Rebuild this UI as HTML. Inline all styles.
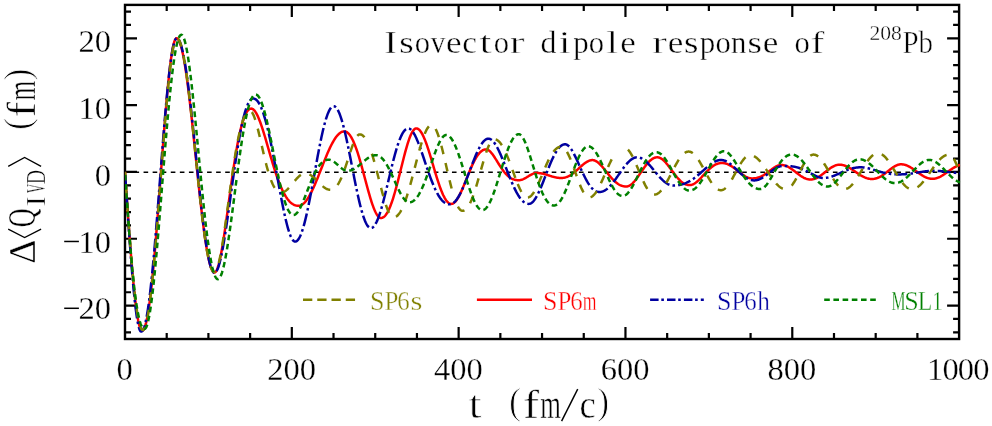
<!DOCTYPE html>
<html><head><meta charset="utf-8"><title>Isovector dipole response of 208Pb</title>
<style>html,body{margin:0;padding:0;background:#fff;}svg{display:block;will-change:transform;}text{font-family:"Liberation Serif",serif;}</style></head><body>
<svg width="992" height="426" viewBox="0 0 992 426">
<rect x="0" y="0" width="992" height="426" fill="#fff"/>
<line x1="125.00" y1="172.30" x2="959.10" y2="172.30" stroke="#000" stroke-width="1.45" stroke-dasharray="4.6 4.47" stroke-dashoffset="-9.50"/>
<g stroke="#000" stroke-width="2.40" fill="none" stroke-linecap="butt">
<rect x="125.00" y="4.90" width="834.10" height="334.10"/>
<path stroke-width="2.2" d="M166.71 339.00v-6.00M166.71 4.90v6.00M208.41 339.00v-6.00M208.41 4.90v6.00M250.12 339.00v-6.00M250.12 4.90v6.00M291.82 339.00v-12.00M291.82 4.90v12.00M333.52 339.00v-6.00M333.52 4.90v6.00M375.23 339.00v-6.00M375.23 4.90v6.00M416.94 339.00v-6.00M416.94 4.90v6.00M458.64 339.00v-12.00M458.64 4.90v12.00M500.35 339.00v-6.00M500.35 4.90v6.00M542.05 339.00v-6.00M542.05 4.90v6.00M583.76 339.00v-6.00M583.76 4.90v6.00M625.46 339.00v-12.00M625.46 4.90v12.00M667.17 339.00v-6.00M667.17 4.90v6.00M708.87 339.00v-6.00M708.87 4.90v6.00M750.58 339.00v-6.00M750.58 4.90v6.00M792.28 339.00v-12.00M792.28 4.90v12.00M833.99 339.00v-6.00M833.99 4.90v6.00M875.69 339.00v-6.00M875.69 4.90v6.00M917.40 339.00v-6.00M917.40 4.90v6.00M125.00 332.32h6.00M959.10 332.32h-6.00M125.00 318.95h6.00M959.10 318.95h-6.00M125.00 305.59h12.00M959.10 305.59h-12.00M125.00 292.23h6.00M959.10 292.23h-6.00M125.00 278.86h6.00M959.10 278.86h-6.00M125.00 265.50h6.00M959.10 265.50h-6.00M125.00 252.13h6.00M959.10 252.13h-6.00M125.00 238.77h12.00M959.10 238.77h-12.00M125.00 225.41h6.00M959.10 225.41h-6.00M125.00 212.04h6.00M959.10 212.04h-6.00M125.00 198.68h6.00M959.10 198.68h-6.00M125.00 185.31h6.00M959.10 185.31h-6.00M125.00 171.95h12.00M959.10 171.95h-12.00M125.00 158.59h6.00M959.10 158.59h-6.00M125.00 145.22h6.00M959.10 145.22h-6.00M125.00 131.86h6.00M959.10 131.86h-6.00M125.00 118.49h6.00M959.10 118.49h-6.00M125.00 105.13h12.00M959.10 105.13h-12.00M125.00 91.77h6.00M959.10 91.77h-6.00M125.00 78.40h6.00M959.10 78.40h-6.00M125.00 65.04h6.00M959.10 65.04h-6.00M125.00 51.67h6.00M959.10 51.67h-6.00M125.00 38.31h12.00M959.10 38.31h-12.00M125.00 24.95h6.00M959.10 24.95h-6.00M125.00 11.58h6.00M959.10 11.58h-6.00"/>
</g>
<clipPath id="cp"><rect x="124.90" y="4.90" width="835.40" height="334.10"/></clipPath>
<g clip-path="url(#cp)" fill="none" stroke-width="2.5" stroke-linejoin="round">
<path d="M125.00 171.95 L125.45 178.63 L125.96 186.08 L126.47 193.49 L126.98 200.84 L127.48 208.12 L127.99 215.32 L128.50 222.42 L129.01 229.40 L129.51 236.24 L130.02 242.94 L130.53 249.48 L131.04 255.85 L131.54 262.02 L132.05 268.00 L132.56 273.77 L133.07 279.31 L133.57 284.61 L134.08 289.67 L134.59 294.47 L135.10 299.00 L135.60 303.26 L136.11 307.24 L136.62 310.92 L137.13 314.31 L137.63 317.39 L138.14 320.16 L138.65 322.62 L139.16 324.75 L139.66 326.57 L140.17 328.05 L140.68 329.21 L141.19 330.04 L141.69 330.53 L142.20 330.70 L142.70 330.57 L143.21 330.17 L143.71 329.51 L144.22 328.59 L144.72 327.39 L145.23 325.93 L145.73 324.21 L146.24 322.22 L146.74 319.97 L147.24 317.45 L147.75 314.68 L148.25 311.65 L148.76 308.38 L149.26 304.85 L149.77 301.09 L150.27 297.08 L150.77 292.85 L151.28 288.40 L151.78 283.72 L152.29 278.84 L152.79 273.76 L153.30 268.49 L153.80 263.04 L154.31 257.41 L154.81 251.62 L155.31 245.68 L155.82 239.60 L156.32 233.39 L156.83 227.06 L157.33 220.62 L157.84 214.10 L158.34 207.50 L158.85 200.83 L159.35 194.11 L159.85 187.36 L160.36 180.58 L160.86 173.79 L161.37 167.01 L161.87 160.25 L162.38 153.53 L162.88 146.86 L163.39 140.26 L163.89 133.73 L164.39 127.31 L164.90 121.00 L165.40 114.82 L165.91 108.78 L166.41 102.90 L166.92 97.19 L167.42 91.67 L167.93 86.35 L168.43 81.24 L168.93 76.36 L169.44 71.73 L169.94 67.35 L170.45 63.23 L170.95 59.40 L171.46 55.85 L171.96 52.60 L172.46 49.67 L172.97 47.05 L173.47 44.76 L173.98 42.81 L174.48 41.20 L174.99 39.94 L175.49 39.03 L176.00 38.48 L176.50 38.30 L177.00 38.40 L177.50 38.69 L178.00 39.18 L178.50 39.87 L179.00 40.75 L179.50 41.82 L180.00 43.09 L180.50 44.54 L181.00 46.19 L181.50 48.01 L182.00 50.02 L182.50 52.20 L183.00 54.57 L183.50 57.10 L184.00 59.79 L184.50 62.65 L185.00 65.67 L185.50 68.84 L186.00 72.16 L186.50 75.62 L187.00 79.21 L187.50 82.94 L188.00 86.79 L188.50 90.75 L189.00 94.83 L189.50 99.01 L190.00 103.29 L190.50 107.66 L191.00 112.11 L191.50 116.63 L192.00 121.22 L192.50 125.87 L193.00 130.57 L193.50 135.32 L194.00 140.10 L194.50 144.91 L195.00 149.73 L195.50 154.57 L196.00 159.41 L196.50 164.25 L197.00 169.07 L197.50 173.87 L198.00 178.63 L198.50 183.36 L199.00 188.05 L199.50 192.67 L200.00 197.24 L200.50 201.73 L201.00 206.15 L201.50 210.48 L202.00 214.71 L202.50 218.85 L203.00 222.87 L203.50 226.79 L204.00 230.58 L204.50 234.24 L205.00 237.76 L205.50 241.15 L206.00 244.38 L206.50 247.47 L207.00 250.40 L207.50 253.16 L208.00 255.75 L208.50 258.18 L209.00 260.42 L209.50 262.48 L210.00 264.36 L210.50 266.05 L211.00 267.55 L211.50 268.86 L212.00 269.97 L212.50 270.88 L213.00 271.59 L213.50 272.09 L214.00 272.40 L214.50 272.50 L215.00 272.38 L215.51 272.01 L216.01 271.41 L216.51 270.58 L217.01 269.52 L217.52 268.25 L218.02 266.77 L218.52 265.09 L219.02 263.21 L219.53 261.15 L220.03 258.92 L220.53 256.52 L221.04 253.96 L221.54 251.26 L222.04 248.42 L222.54 245.46 L223.05 242.38 L223.55 239.20 L224.05 235.92 L224.55 232.55 L225.06 229.11 L225.56 225.60 L226.06 222.04 L226.57 218.43 L227.07 214.79 L227.57 211.11 L228.07 207.42 L228.58 203.72 L229.08 200.01 L229.58 196.32 L230.08 192.64 L230.59 188.98 L231.09 185.35 L231.59 181.75 L232.10 178.20 L232.60 174.70 L233.10 171.26 L233.60 167.88 L234.11 164.56 L234.61 161.32 L235.11 158.15 L235.62 155.06 L236.12 152.05 L236.62 149.14 L237.12 146.31 L237.63 143.58 L238.13 140.95 L238.63 138.41 L239.13 135.98 L239.64 133.65 L240.14 131.42 L240.64 129.30 L241.15 127.28 L241.65 125.37 L242.15 123.57 L242.65 121.87 L243.16 120.29 L243.66 118.81 L244.16 117.43 L244.66 116.16 L245.17 114.99 L245.67 113.93 L246.17 112.97 L246.68 112.11 L247.18 111.35 L247.68 110.69 L248.18 110.12 L248.69 109.65 L249.19 109.26 L249.69 108.97 L250.19 108.76 L250.70 108.64 L251.20 108.60 L251.70 108.65 L252.21 108.79 L252.71 109.03 L253.21 109.37 L253.72 109.79 L254.22 110.30 L254.72 110.90 L255.23 111.58 L255.73 112.34 L256.23 113.18 L256.74 114.09 L257.24 115.08 L257.74 116.13 L258.24 117.25 L258.75 118.43 L259.25 119.67 L259.75 120.96 L260.26 122.31 L260.76 123.71 L261.26 125.15 L261.77 126.63 L262.27 128.16 L262.77 129.72 L263.28 131.31 L263.78 132.93 L264.28 134.58 L264.79 136.25 L265.29 137.94 L265.79 139.65 L266.30 141.37 L266.80 143.10 L267.30 144.84 L267.81 146.59 L268.31 148.34 L268.81 150.09 L269.31 151.84 L269.82 153.58 L270.32 155.32 L270.82 157.04 L271.33 158.75 L271.83 160.45 L272.33 162.14 L272.84 163.80 L273.34 165.45 L273.84 167.08 L274.35 168.68 L274.85 170.26 L275.35 171.81 L275.86 173.33 L276.36 174.83 L276.86 176.29 L277.37 177.72 L277.87 179.13 L278.37 180.50 L278.88 181.83 L279.38 183.13 L279.88 184.40 L280.39 185.62 L280.89 186.82 L281.39 187.97 L281.89 189.09 L282.40 190.17 L282.90 191.21 L283.40 192.22 L283.91 193.18 L284.41 194.11 L284.91 195.00 L285.42 195.85 L285.92 196.67 L286.42 197.44 L286.93 198.18 L287.43 198.88 L287.93 199.54 L288.44 200.17 L288.94 200.76 L289.44 201.31 L289.95 201.83 L290.45 202.31 L290.95 202.76 L291.46 203.18 L291.96 203.56 L292.46 203.91 L292.96 204.23 L293.47 204.51 L293.97 204.77 L294.47 204.99 L294.98 205.19 L295.48 205.35 L295.98 205.49 L296.49 205.61 L296.99 205.69 L297.49 205.75 L298.00 205.79 L298.50 205.80 L299.00 205.78 L299.51 205.71 L300.01 205.60 L300.51 205.44 L301.02 205.24 L301.52 204.99 L302.02 204.70 L302.53 204.37 L303.03 203.99 L303.53 203.58 L304.04 203.12 L304.54 202.61 L305.04 202.07 L305.55 201.49 L306.05 200.86 L306.55 200.20 L307.06 199.50 L307.56 198.76 L308.06 197.99 L308.57 197.18 L309.07 196.34 L309.57 195.47 L310.08 194.56 L310.58 193.62 L311.08 192.65 L311.59 191.65 L312.09 190.63 L312.59 189.58 L313.10 188.50 L313.60 187.40 L314.10 186.28 L314.61 185.14 L315.11 183.98 L315.61 182.80 L316.12 181.60 L316.62 180.38 L317.12 179.16 L317.63 177.92 L318.13 176.67 L318.63 175.41 L319.14 174.14 L319.64 172.87 L320.14 171.59 L320.65 170.31 L321.15 169.02 L321.65 167.74 L322.15 166.46 L322.66 165.18 L323.16 163.90 L323.66 162.63 L324.17 161.37 L324.67 160.11 L325.17 158.87 L325.68 157.64 L326.18 156.42 L326.68 155.22 L327.19 154.03 L327.69 152.86 L328.19 151.71 L328.70 150.57 L329.20 149.46 L329.70 148.38 L330.21 147.31 L330.71 146.28 L331.21 145.27 L331.72 144.28 L332.22 143.33 L332.72 142.41 L333.23 141.51 L333.73 140.65 L334.23 139.83 L334.74 139.03 L335.24 138.27 L335.74 137.55 L336.25 136.87 L336.75 136.22 L337.25 135.61 L337.76 135.04 L338.26 134.51 L338.76 134.02 L339.27 133.57 L339.77 133.16 L340.27 132.79 L340.78 132.47 L341.28 132.18 L341.78 131.95 L342.29 131.75 L342.79 131.60 L343.29 131.49 L343.80 131.42 L344.30 131.40 L344.80 131.43 L345.31 131.52 L345.81 131.67 L346.31 131.88 L346.81 132.15 L347.32 132.49 L347.82 132.89 L348.32 133.35 L348.82 133.87 L349.33 134.46 L349.83 135.11 L350.33 135.82 L350.84 136.59 L351.34 137.42 L351.84 138.32 L352.34 139.28 L352.85 140.29 L353.35 141.37 L353.85 142.50 L354.35 143.69 L354.86 144.94 L355.36 146.24 L355.86 147.59 L356.37 148.99 L356.87 150.44 L357.37 151.94 L357.87 153.48 L358.38 155.07 L358.88 156.70 L359.38 158.36 L359.88 160.06 L360.39 161.79 L360.89 163.55 L361.39 165.34 L361.90 167.16 L362.40 168.99 L362.90 170.84 L363.40 172.71 L363.91 174.59 L364.41 176.47 L364.91 178.36 L365.42 180.25 L365.92 182.13 L366.42 184.01 L366.92 185.88 L367.43 187.73 L367.93 189.56 L368.43 191.37 L368.93 193.15 L369.44 194.90 L369.94 196.62 L370.44 198.29 L370.95 199.93 L371.45 201.52 L371.95 203.05 L372.45 204.53 L372.96 205.95 L373.46 207.31 L373.96 208.61 L374.46 209.83 L374.97 210.98 L375.47 212.06 L375.97 213.05 L376.48 213.96 L376.98 214.79 L377.48 215.53 L377.98 216.17 L378.49 216.72 L378.99 217.18 L379.49 217.54 L379.99 217.79 L380.50 217.95 L381.00 218.00 L381.50 217.97 L382.01 217.87 L382.51 217.70 L383.02 217.46 L383.52 217.15 L384.03 216.77 L384.53 216.33 L385.03 215.81 L385.54 215.22 L386.04 214.56 L386.55 213.83 L387.05 213.03 L387.56 212.16 L388.06 211.22 L388.56 210.21 L389.07 209.14 L389.57 208.00 L390.08 206.79 L390.58 205.52 L391.09 204.18 L391.59 202.79 L392.09 201.34 L392.60 199.83 L393.10 198.26 L393.61 196.64 L394.11 194.97 L394.62 193.25 L395.12 191.49 L395.62 189.69 L396.13 187.85 L396.63 185.97 L397.14 184.05 L397.64 182.11 L398.15 180.15 L398.65 178.16 L399.15 176.15 L399.66 174.13 L400.16 172.10 L400.67 170.06 L401.17 168.03 L401.68 165.99 L402.18 163.96 L402.68 161.95 L403.19 159.95 L403.69 157.97 L404.20 156.01 L404.70 154.09 L405.21 152.20 L405.71 150.35 L406.21 148.55 L406.72 146.79 L407.22 145.09 L407.73 143.45 L408.23 141.87 L408.74 140.36 L409.24 138.91 L409.74 137.55 L410.25 136.26 L410.75 135.06 L411.26 133.95 L411.76 132.93 L412.27 132.01 L412.77 131.18 L413.27 130.45 L413.78 129.84 L414.28 129.32 L414.79 128.92 L415.29 128.63 L415.80 128.46 L416.30 128.40 L416.80 128.44 L417.30 128.57 L417.80 128.77 L418.30 129.06 L418.80 129.43 L419.30 129.88 L419.80 130.41 L420.30 131.01 L420.80 131.69 L421.30 132.45 L421.80 133.27 L422.30 134.17 L422.80 135.13 L423.30 136.15 L423.80 137.24 L424.30 138.39 L424.80 139.60 L425.30 140.86 L425.80 142.17 L426.30 143.53 L426.80 144.94 L427.30 146.39 L427.80 147.88 L428.30 149.40 L428.80 150.96 L429.30 152.55 L429.80 154.16 L430.30 155.79 L430.80 157.45 L431.30 159.12 L431.80 160.80 L432.30 162.49 L432.80 164.18 L433.30 165.88 L433.80 167.58 L434.30 169.27 L434.80 170.95 L435.30 172.62 L435.80 174.27 L436.30 175.91 L436.80 177.52 L437.30 179.11 L437.80 180.67 L438.30 182.20 L438.80 183.70 L439.30 185.16 L439.80 186.58 L440.30 187.96 L440.80 189.30 L441.30 190.59 L441.80 191.83 L442.30 193.01 L442.80 194.15 L443.30 195.23 L443.80 196.25 L444.30 197.22 L444.80 198.12 L445.30 198.96 L445.80 199.74 L446.30 200.46 L446.80 201.11 L447.30 201.69 L447.80 202.21 L448.30 202.66 L448.80 203.04 L449.30 203.35 L449.80 203.59 L450.30 203.76 L450.80 203.87 L451.30 203.90 L451.80 203.86 L452.31 203.75 L452.81 203.57 L453.31 203.32 L453.81 202.99 L454.32 202.60 L454.82 202.15 L455.32 201.63 L455.83 201.05 L456.33 200.40 L456.83 199.70 L457.33 198.95 L457.84 198.14 L458.34 197.29 L458.84 196.38 L459.35 195.44 L459.85 194.45 L460.35 193.42 L460.86 192.35 L461.36 191.26 L461.86 190.13 L462.36 188.98 L462.87 187.80 L463.37 186.61 L463.87 185.39 L464.38 184.16 L464.88 182.92 L465.38 181.67 L465.88 180.42 L466.39 179.16 L466.89 177.90 L467.39 176.64 L467.90 175.39 L468.40 174.15 L468.90 172.92 L469.40 171.70 L469.91 170.49 L470.41 169.31 L470.91 168.14 L471.42 167.00 L471.92 165.87 L472.42 164.78 L472.92 163.71 L473.43 162.67 L473.93 161.67 L474.43 160.69 L474.94 159.76 L475.44 158.85 L475.94 157.98 L476.44 157.15 L476.95 156.36 L477.45 155.61 L477.95 154.90 L478.46 154.24 L478.96 153.61 L479.46 153.03 L479.97 152.49 L480.47 151.99 L480.97 151.53 L481.47 151.13 L481.98 150.76 L482.48 150.44 L482.98 150.16 L483.49 149.93 L483.99 149.74 L484.49 149.59 L484.99 149.48 L485.50 149.42 L486.00 149.40 L486.50 149.43 L487.01 149.54 L487.51 149.71 L488.01 149.94 L488.52 150.23 L489.02 150.58 L489.52 150.98 L490.02 151.44 L490.53 151.94 L491.03 152.49 L491.53 153.08 L492.04 153.70 L492.54 154.36 L493.04 155.05 L493.55 155.77 L494.05 156.51 L494.55 157.28 L495.06 158.06 L495.56 158.85 L496.06 159.65 L496.56 160.46 L497.07 161.28 L497.57 162.10 L498.07 162.91 L498.58 163.72 L499.08 164.53 L499.58 165.33 L500.09 166.12 L500.59 166.89 L501.09 167.65 L501.60 168.40 L502.10 169.13 L502.60 169.84 L503.10 170.52 L503.61 171.19 L504.11 171.84 L504.61 172.46 L505.12 173.06 L505.62 173.63 L506.12 174.18 L506.63 174.71 L507.13 175.20 L507.63 175.68 L508.14 176.12 L508.64 176.55 L509.14 176.94 L509.64 177.31 L510.15 177.66 L510.65 177.98 L511.15 178.27 L511.66 178.55 L512.16 178.79 L512.66 179.02 L513.17 179.22 L513.67 179.41 L514.17 179.57 L514.68 179.71 L515.18 179.83 L515.68 179.93 L516.18 180.02 L516.69 180.09 L517.19 180.14 L517.69 180.17 L518.20 180.19 L518.70 180.20 L519.21 180.19 L519.71 180.15 L520.22 180.08 L520.72 179.98 L521.23 179.86 L521.73 179.72 L522.24 179.55 L522.74 179.36 L523.25 179.15 L523.76 178.91 L524.26 178.66 L524.77 178.40 L525.27 178.12 L525.78 177.83 L526.28 177.53 L526.79 177.23 L527.29 176.91 L527.80 176.60 L528.31 176.29 L528.81 175.97 L529.32 175.67 L529.82 175.37 L530.33 175.08 L530.83 174.80 L531.34 174.54 L531.84 174.29 L532.35 174.05 L532.86 173.84 L533.36 173.65 L533.87 173.48 L534.37 173.34 L534.88 173.22 L535.38 173.12 L535.89 173.05 L536.39 173.01 L536.90 173.00 L537.40 173.01 L537.91 173.02 L538.41 173.05 L538.92 173.09 L539.42 173.13 L539.92 173.19 L540.43 173.26 L540.93 173.33 L541.44 173.42 L541.94 173.52 L542.45 173.62 L542.95 173.73 L543.45 173.85 L543.96 173.98 L544.46 174.11 L544.97 174.25 L545.47 174.39 L545.98 174.54 L546.48 174.70 L546.98 174.85 L547.49 175.01 L547.99 175.17 L548.50 175.34 L549.00 175.50 L549.50 175.66 L550.01 175.83 L550.51 175.99 L551.02 176.15 L551.52 176.30 L552.02 176.46 L552.53 176.61 L553.03 176.75 L553.54 176.89 L554.04 177.02 L554.55 177.15 L555.05 177.27 L555.55 177.38 L556.06 177.48 L556.56 177.58 L557.07 177.67 L557.57 177.74 L558.08 177.81 L558.58 177.87 L559.08 177.91 L559.59 177.95 L560.09 177.98 L560.60 177.99 L561.10 178.00 L561.60 177.99 L562.11 177.97 L562.61 177.93 L563.12 177.87 L563.62 177.80 L564.13 177.71 L564.63 177.60 L565.14 177.48 L565.64 177.33 L566.15 177.17 L566.65 177.00 L567.16 176.80 L567.66 176.59 L568.17 176.37 L568.67 176.12 L569.18 175.86 L569.68 175.58 L570.19 175.29 L570.69 174.98 L571.20 174.65 L571.70 174.31 L572.21 173.96 L572.71 173.60 L573.22 173.22 L573.72 172.82 L574.23 172.42 L574.73 172.01 L575.24 171.58 L575.74 171.15 L576.25 170.71 L576.75 170.27 L577.25 169.81 L577.76 169.36 L578.26 168.90 L578.77 168.44 L579.27 167.97 L579.78 167.51 L580.28 167.05 L580.79 166.59 L581.29 166.14 L581.80 165.69 L582.30 165.25 L582.81 164.82 L583.31 164.40 L583.82 163.99 L584.32 163.59 L584.83 163.21 L585.33 162.85 L585.84 162.50 L586.34 162.17 L586.85 161.86 L587.35 161.57 L587.86 161.30 L588.36 161.06 L588.87 160.84 L589.37 160.65 L589.88 160.48 L590.38 160.35 L590.89 160.24 L591.39 160.16 L591.90 160.12 L592.40 160.10 L592.90 160.12 L593.41 160.18 L593.91 160.29 L594.42 160.43 L594.92 160.61 L595.43 160.83 L595.93 161.09 L596.44 161.38 L596.94 161.70 L597.44 162.06 L597.95 162.44 L598.45 162.86 L598.96 163.30 L599.46 163.77 L599.97 164.26 L600.47 164.77 L600.98 165.30 L601.48 165.85 L601.99 166.42 L602.49 167.01 L602.99 167.60 L603.50 168.21 L604.00 168.82 L604.51 169.45 L605.01 170.08 L605.52 170.71 L606.02 171.35 L606.53 171.98 L607.03 172.62 L607.53 173.25 L608.04 173.88 L608.54 174.51 L609.05 175.13 L609.55 175.74 L610.06 176.34 L610.56 176.93 L611.07 177.51 L611.57 178.08 L612.07 178.63 L612.58 179.17 L613.08 179.70 L613.59 180.20 L614.09 180.69 L614.60 181.17 L615.10 181.62 L615.61 182.06 L616.11 182.48 L616.61 182.88 L617.12 183.25 L617.62 183.61 L618.13 183.95 L618.63 184.26 L619.14 184.56 L619.64 184.83 L620.15 185.09 L620.65 185.32 L621.16 185.53 L621.66 185.72 L622.16 185.88 L622.67 186.03 L623.17 186.16 L623.68 186.26 L624.18 186.35 L624.69 186.42 L625.19 186.46 L625.70 186.49 L626.20 186.50 L626.70 186.48 L627.20 186.42 L627.70 186.31 L628.21 186.16 L628.71 185.98 L629.21 185.75 L629.71 185.48 L630.21 185.18 L630.71 184.84 L631.22 184.46 L631.72 184.05 L632.22 183.61 L632.72 183.13 L633.22 182.62 L633.72 182.09 L634.23 181.53 L634.73 180.94 L635.23 180.33 L635.73 179.70 L636.23 179.05 L636.73 178.38 L637.24 177.70 L637.74 177.00 L638.24 176.29 L638.74 175.57 L639.24 174.84 L639.74 174.10 L640.25 173.36 L640.75 172.62 L641.25 171.88 L641.75 171.14 L642.25 170.40 L642.75 169.67 L643.25 168.95 L643.76 168.23 L644.26 167.53 L644.76 166.84 L645.26 166.16 L645.76 165.50 L646.26 164.85 L646.77 164.23 L647.27 163.62 L647.77 163.04 L648.27 162.47 L648.77 161.94 L649.27 161.43 L649.78 160.94 L650.28 160.48 L650.78 160.05 L651.28 159.65 L651.78 159.28 L652.28 158.94 L652.79 158.63 L653.29 158.35 L653.79 158.11 L654.29 157.89 L654.79 157.71 L655.29 157.56 L655.80 157.45 L656.30 157.37 L656.80 157.32 L657.30 157.30 L657.80 157.32 L658.31 157.39 L658.81 157.49 L659.32 157.64 L659.82 157.83 L660.33 158.05 L660.83 158.32 L661.34 158.62 L661.84 158.96 L662.35 159.33 L662.85 159.74 L663.36 160.17 L663.86 160.64 L664.37 161.13 L664.87 161.65 L665.38 162.20 L665.88 162.76 L666.38 163.35 L666.89 163.95 L667.39 164.58 L667.90 165.22 L668.40 165.87 L668.91 166.53 L669.41 167.20 L669.92 167.88 L670.42 168.57 L670.93 169.25 L671.43 169.94 L671.94 170.64 L672.44 171.33 L672.95 172.01 L673.45 172.69 L673.95 173.37 L674.46 174.03 L674.96 174.69 L675.47 175.34 L675.97 175.97 L676.48 176.59 L676.98 177.20 L677.49 177.79 L677.99 178.36 L678.50 178.91 L679.00 179.44 L679.51 179.96 L680.01 180.45 L680.52 180.92 L681.02 181.37 L681.52 181.79 L682.03 182.19 L682.53 182.56 L683.04 182.91 L683.54 183.24 L684.05 183.54 L684.55 183.81 L685.06 184.06 L685.56 184.28 L686.07 184.47 L686.57 184.64 L687.08 184.78 L687.58 184.90 L688.09 184.99 L688.59 185.05 L689.10 185.09 L689.60 185.10 L690.10 185.08 L690.61 185.03 L691.11 184.94 L691.62 184.82 L692.12 184.66 L692.63 184.47 L693.13 184.26 L693.64 184.01 L694.14 183.73 L694.65 183.42 L695.15 183.09 L695.66 182.73 L696.16 182.35 L696.67 181.95 L697.17 181.52 L697.67 181.08 L698.18 180.62 L698.68 180.14 L699.19 179.65 L699.69 179.14 L700.20 178.63 L700.70 178.10 L701.21 177.57 L701.71 177.02 L702.22 176.48 L702.72 175.93 L703.23 175.38 L703.73 174.82 L704.24 174.27 L704.74 173.72 L705.25 173.18 L705.75 172.64 L706.25 172.10 L706.76 171.58 L707.26 171.06 L707.77 170.55 L708.27 170.05 L708.78 169.56 L709.28 169.09 L709.79 168.63 L710.29 168.18 L710.80 167.75 L711.30 167.34 L711.81 166.94 L712.31 166.56 L712.82 166.19 L713.32 165.85 L713.83 165.52 L714.33 165.22 L714.83 164.93 L715.34 164.66 L715.84 164.41 L716.35 164.18 L716.85 163.98 L717.36 163.79 L717.86 163.62 L718.37 163.47 L718.87 163.35 L719.38 163.24 L719.88 163.15 L720.39 163.09 L720.89 163.04 L721.40 163.01 L721.90 163.00 L722.40 163.01 L722.91 163.04 L723.41 163.08 L723.92 163.15 L724.42 163.23 L724.93 163.33 L725.43 163.46 L725.94 163.59 L726.44 163.75 L726.95 163.93 L727.46 164.12 L727.96 164.33 L728.47 164.55 L728.97 164.80 L729.48 165.05 L729.98 165.33 L730.49 165.61 L730.99 165.91 L731.50 166.23 L732.00 166.56 L732.50 166.89 L733.01 167.24 L733.51 167.60 L734.02 167.97 L734.52 168.35 L735.03 168.73 L735.53 169.12 L736.04 169.51 L736.54 169.91 L737.05 170.31 L737.56 170.72 L738.06 171.12 L738.57 171.52 L739.07 171.93 L739.58 172.33 L740.08 172.72 L740.59 173.11 L741.09 173.50 L741.60 173.88 L742.10 174.25 L742.61 174.61 L743.11 174.96 L743.62 175.30 L744.12 175.62 L744.62 175.94 L745.13 176.23 L745.63 176.51 L746.14 176.78 L746.64 177.03 L747.15 177.26 L747.66 177.47 L748.16 177.66 L748.67 177.83 L749.17 177.98 L749.68 178.11 L750.18 178.21 L750.69 178.29 L751.19 178.35 L751.70 178.39 L752.20 178.40 L752.70 178.39 L753.20 178.38 L753.71 178.35 L754.21 178.31 L754.71 178.26 L755.21 178.19 L755.71 178.12 L756.21 178.03 L756.72 177.92 L757.22 177.81 L757.72 177.68 L758.22 177.53 L758.72 177.38 L759.22 177.20 L759.73 177.02 L760.23 176.82 L760.73 176.61 L761.23 176.38 L761.73 176.14 L762.23 175.88 L762.74 175.62 L763.24 175.34 L763.74 175.05 L764.24 174.74 L764.74 174.43 L765.24 174.11 L765.75 173.77 L766.25 173.43 L766.75 173.08 L767.25 172.72 L767.75 172.35 L768.26 171.98 L768.76 171.61 L769.26 171.23 L769.76 170.85 L770.26 170.47 L770.76 170.09 L771.27 169.72 L771.77 169.34 L772.27 168.98 L772.77 168.62 L773.27 168.26 L773.77 167.92 L774.28 167.59 L774.78 167.27 L775.28 166.96 L775.78 166.68 L776.28 166.41 L776.78 166.16 L777.29 165.93 L777.79 165.72 L778.29 165.53 L778.79 165.37 L779.29 165.24 L779.79 165.14 L780.30 165.06 L780.80 165.02 L781.30 165.00 L781.80 165.01 L782.31 165.04 L782.81 165.10 L783.31 165.17 L783.82 165.27 L784.32 165.38 L784.82 165.52 L785.33 165.67 L785.83 165.85 L786.33 166.04 L786.84 166.25 L787.34 166.48 L787.84 166.73 L788.35 166.99 L788.85 167.27 L789.36 167.56 L789.86 167.87 L790.36 168.19 L790.87 168.52 L791.37 168.86 L791.87 169.22 L792.38 169.58 L792.88 169.95 L793.38 170.32 L793.89 170.70 L794.39 171.09 L794.89 171.48 L795.40 171.87 L795.90 172.26 L796.40 172.65 L796.91 173.05 L797.41 173.43 L797.91 173.82 L798.42 174.20 L798.92 174.58 L799.42 174.94 L799.93 175.30 L800.43 175.66 L800.93 176.00 L801.44 176.33 L801.94 176.65 L802.44 176.95 L802.95 177.24 L803.45 177.52 L803.96 177.78 L804.46 178.03 L804.96 178.25 L805.47 178.47 L805.97 178.66 L806.47 178.83 L806.98 178.99 L807.48 179.12 L807.98 179.24 L808.49 179.33 L808.99 179.40 L809.49 179.46 L810.00 179.49 L810.50 179.50 L811.00 179.49 L811.50 179.46 L812.00 179.41 L812.50 179.34 L813.00 179.24 L813.50 179.13 L814.00 179.00 L814.50 178.85 L815.00 178.68 L815.50 178.49 L816.00 178.28 L816.50 178.06 L817.00 177.82 L817.50 177.56 L818.00 177.28 L818.50 176.99 L819.00 176.69 L819.50 176.37 L820.00 176.04 L820.50 175.70 L821.00 175.35 L821.50 174.99 L822.00 174.62 L822.50 174.24 L823.00 173.85 L823.50 173.46 L824.00 173.07 L824.50 172.67 L825.00 172.27 L825.50 171.87 L826.00 171.47 L826.50 171.07 L827.00 170.67 L827.50 170.28 L828.00 169.89 L828.50 169.51 L829.00 169.14 L829.50 168.77 L830.00 168.41 L830.50 168.07 L831.00 167.74 L831.50 167.41 L832.00 167.11 L832.50 166.81 L833.00 166.54 L833.50 166.28 L834.00 166.03 L834.50 165.81 L835.00 165.60 L835.50 165.42 L836.00 165.25 L836.50 165.11 L837.00 164.98 L837.50 164.88 L838.00 164.80 L838.50 164.75 L839.00 164.71 L839.50 164.70 L840.00 164.71 L840.51 164.74 L841.01 164.78 L841.52 164.84 L842.02 164.92 L842.53 165.01 L843.03 165.13 L843.54 165.26 L844.04 165.40 L844.55 165.56 L845.05 165.74 L845.56 165.93 L846.06 166.13 L846.57 166.35 L847.07 166.58 L847.58 166.83 L848.08 167.09 L848.58 167.35 L849.09 167.63 L849.59 167.92 L850.10 168.22 L850.60 168.53 L851.11 168.85 L851.61 169.17 L852.12 169.50 L852.62 169.83 L853.13 170.17 L853.63 170.52 L854.14 170.86 L854.64 171.21 L855.15 171.56 L855.65 171.92 L856.15 172.27 L856.66 172.62 L857.16 172.96 L857.67 173.31 L858.17 173.65 L858.68 173.99 L859.18 174.32 L859.69 174.64 L860.19 174.96 L860.70 175.27 L861.20 175.58 L861.71 175.87 L862.21 176.15 L862.72 176.43 L863.22 176.69 L863.72 176.94 L864.23 177.18 L864.73 177.41 L865.24 177.62 L865.74 177.82 L866.25 178.00 L866.75 178.17 L867.26 178.33 L867.76 178.47 L868.27 178.59 L868.77 178.70 L869.28 178.79 L869.78 178.87 L870.29 178.92 L870.79 178.97 L871.30 178.99 L871.80 179.00 L872.31 178.99 L872.81 178.97 L873.32 178.93 L873.82 178.87 L874.33 178.79 L874.83 178.70 L875.34 178.59 L875.84 178.46 L876.35 178.32 L876.85 178.15 L877.36 177.98 L877.86 177.78 L878.37 177.57 L878.87 177.34 L879.38 177.10 L879.88 176.84 L880.39 176.57 L880.89 176.28 L881.40 175.98 L881.90 175.66 L882.41 175.34 L882.91 175.00 L883.42 174.65 L883.92 174.29 L884.43 173.93 L884.93 173.55 L885.44 173.17 L885.94 172.78 L886.45 172.38 L886.96 171.99 L887.46 171.58 L887.97 171.18 L888.47 170.78 L888.98 170.38 L889.48 169.98 L889.99 169.58 L890.49 169.19 L891.00 168.81 L891.50 168.43 L892.01 168.06 L892.51 167.70 L893.02 167.35 L893.52 167.02 L894.03 166.70 L894.53 166.39 L895.04 166.10 L895.54 165.83 L896.05 165.58 L896.55 165.35 L897.06 165.13 L897.56 164.94 L898.07 164.78 L898.57 164.63 L899.08 164.51 L899.58 164.42 L900.09 164.35 L900.59 164.31 L901.10 164.30 L901.60 164.31 L902.11 164.34 L902.61 164.39 L903.12 164.45 L903.62 164.54 L904.13 164.64 L904.63 164.76 L905.14 164.90 L905.64 165.06 L906.15 165.23 L906.65 165.42 L907.16 165.63 L907.66 165.85 L908.17 166.08 L908.67 166.33 L909.18 166.60 L909.68 166.87 L910.19 167.16 L910.69 167.46 L911.20 167.77 L911.70 168.09 L912.21 168.42 L912.71 168.75 L913.22 169.10 L913.72 169.45 L914.23 169.80 L914.73 170.16 L915.24 170.52 L915.74 170.89 L916.25 171.26 L916.75 171.62 L917.25 171.99 L917.76 172.36 L918.26 172.72 L918.77 173.08 L919.27 173.44 L919.78 173.79 L920.28 174.13 L920.79 174.47 L921.29 174.80 L921.80 175.13 L922.30 175.44 L922.81 175.74 L923.31 176.04 L923.82 176.32 L924.32 176.59 L924.83 176.84 L925.33 177.08 L925.84 177.31 L926.34 177.53 L926.85 177.73 L927.35 177.91 L927.86 178.07 L928.36 178.23 L928.87 178.36 L929.37 178.48 L929.88 178.57 L930.38 178.66 L930.89 178.72 L931.39 178.76 L931.90 178.79 L932.40 178.80 L932.90 178.79 L933.40 178.76 L933.90 178.72 L934.41 178.65 L934.91 178.57 L935.41 178.47 L935.91 178.35 L936.41 178.21 L936.91 178.06 L937.42 177.89 L937.92 177.70 L938.42 177.50 L938.92 177.28 L939.42 177.05 L939.92 176.81 L940.43 176.55 L940.93 176.28 L941.43 176.00 L941.93 175.71 L942.43 175.40 L942.93 175.09 L943.44 174.77 L943.94 174.44 L944.44 174.10 L944.94 173.76 L945.44 173.41 L945.94 173.06 L946.45 172.70 L946.95 172.35 L947.45 171.99 L947.95 171.63 L948.45 171.27 L948.95 170.91 L949.45 170.55 L949.96 170.20 L950.46 169.85 L950.96 169.51 L951.46 169.17 L951.96 168.84 L952.46 168.51 L952.97 168.20 L953.47 167.89 L953.97 167.59 L954.47 167.31 L954.97 167.03 L955.47 166.77 L955.98 166.52 L956.48 166.28 L956.98 166.06 L957.48 165.85 L957.98 165.65 L958.48 165.47 L958.99 165.31 L959.49 165.16 L959.99 165.03 L960.10 165.01" stroke="#ff0000"/>
<path d="M125.00 171.95 L125.10 173.51 L125.61 181.13 L126.11 188.74 L126.61 196.32 L127.12 203.85 L127.62 211.32 L128.12 218.71 L128.62 226.01 L129.13 233.18 L129.63 240.23 L130.13 247.12 L130.64 253.85 L131.14 260.39 L131.64 266.74 L132.15 272.87 L132.65 278.77 L133.15 284.42 L133.65 289.82 L134.16 294.94 L134.66 299.77 L135.16 304.31 L135.67 308.53 L136.17 312.42 L136.67 315.98 L137.18 319.20 L137.68 322.07 L138.18 324.57 L138.68 326.70 L139.19 328.45 L139.69 329.82 L140.19 330.81 L140.70 331.40 L141.20 331.60 L141.70 331.47 L142.20 331.10 L142.70 330.47 L143.21 329.59 L143.71 328.46 L144.21 327.07 L144.71 325.44 L145.21 323.55 L145.71 321.42 L146.21 319.04 L146.72 316.42 L147.22 313.56 L147.72 310.46 L148.22 307.13 L148.72 303.58 L149.22 299.80 L149.72 295.81 L150.23 291.61 L150.73 287.20 L151.23 282.60 L151.73 277.80 L152.23 272.83 L152.73 267.68 L153.23 262.37 L153.74 256.90 L154.24 251.29 L154.74 245.54 L155.24 239.67 L155.74 233.68 L156.24 227.58 L156.74 221.39 L157.25 215.12 L157.75 208.78 L158.25 202.38 L158.75 195.93 L159.25 189.46 L159.75 182.95 L160.25 176.45 L160.75 169.94 L161.26 163.45 L161.76 157.00 L162.26 150.59 L162.76 144.23 L163.26 137.95 L163.76 131.74 L164.26 125.64 L164.77 119.64 L165.27 113.77 L165.77 108.03 L166.27 102.44 L166.77 97.01 L167.27 91.75 L167.77 86.68 L168.28 81.81 L168.78 77.14 L169.28 72.69 L169.78 68.47 L170.28 64.48 L170.78 60.75 L171.28 57.28 L171.79 54.07 L172.29 51.14 L172.79 48.50 L173.29 46.14 L173.79 44.09 L174.29 42.33 L174.79 40.89 L175.30 39.76 L175.80 38.95 L176.30 38.46 L176.80 38.30 L177.30 38.40 L177.81 38.69 L178.31 39.17 L178.81 39.85 L179.31 40.73 L179.82 41.79 L180.32 43.05 L180.82 44.50 L181.32 46.13 L181.83 47.95 L182.33 49.95 L182.83 52.13 L183.33 54.49 L183.84 57.02 L184.34 59.71 L184.84 62.58 L185.35 65.60 L185.85 68.78 L186.35 72.11 L186.85 75.58 L187.36 79.19 L187.86 82.94 L188.36 86.81 L188.86 90.81 L189.37 94.91 L189.87 99.13 L190.37 103.45 L190.87 107.86 L191.38 112.35 L191.88 116.93 L192.38 121.57 L192.89 126.28 L193.39 131.04 L193.89 135.85 L194.39 140.70 L194.90 145.57 L195.40 150.47 L195.90 155.38 L196.40 160.29 L196.91 165.20 L197.41 170.10 L197.91 174.97 L198.41 179.82 L198.92 184.62 L199.42 189.38 L199.92 194.08 L200.43 198.71 L200.93 203.27 L201.43 207.75 L201.93 212.14 L202.44 216.43 L202.94 220.62 L203.44 224.69 L203.94 228.64 L204.45 232.47 L204.95 236.15 L205.45 239.70 L205.95 243.09 L206.46 246.33 L206.96 249.41 L207.46 252.32 L207.97 255.05 L208.47 257.61 L208.97 259.98 L209.47 262.16 L209.98 264.15 L210.48 265.94 L210.98 267.54 L211.48 268.92 L211.99 270.10 L212.49 271.07 L212.99 271.82 L213.49 272.37 L214.00 272.69 L214.50 272.80 L215.00 272.70 L215.51 272.40 L216.01 271.90 L216.51 271.20 L217.01 270.31 L217.52 269.24 L218.02 267.99 L218.52 266.56 L219.02 264.96 L219.53 263.20 L220.03 261.27 L220.53 259.20 L221.03 256.97 L221.54 254.61 L222.04 252.11 L222.54 249.49 L223.04 246.75 L223.55 243.90 L224.05 240.94 L224.55 237.89 L225.05 234.74 L225.56 231.52 L226.06 228.22 L226.56 224.85 L227.06 221.43 L227.57 217.95 L228.07 214.43 L228.57 210.87 L229.08 207.28 L229.58 203.66 L230.08 200.04 L230.58 196.40 L231.09 192.76 L231.59 189.13 L232.09 185.50 L232.59 181.90 L233.10 178.31 L233.60 174.76 L234.10 171.24 L234.60 167.77 L235.11 164.34 L235.61 160.96 L236.11 157.63 L236.61 154.37 L237.12 151.17 L237.62 148.04 L238.12 144.99 L238.62 142.01 L239.13 139.12 L239.63 136.31 L240.13 133.58 L240.64 130.95 L241.14 128.41 L241.64 125.96 L242.14 123.61 L242.65 121.36 L243.15 119.22 L243.65 117.17 L244.15 115.23 L244.66 113.40 L245.16 111.67 L245.66 110.05 L246.16 108.53 L246.67 107.12 L247.17 105.83 L247.67 104.63 L248.17 103.55 L248.68 102.58 L249.18 101.71 L249.68 100.95 L250.18 100.29 L250.69 99.74 L251.19 99.29 L251.69 98.94 L252.19 98.69 L252.70 98.55 L253.20 98.50 L253.70 98.53 L254.20 98.64 L254.70 98.81 L255.20 99.05 L255.70 99.37 L256.20 99.75 L256.70 100.21 L257.20 100.74 L257.70 101.35 L258.20 102.03 L258.70 102.79 L259.20 103.62 L259.70 104.52 L260.20 105.50 L260.70 106.56 L261.20 107.69 L261.70 108.89 L262.20 110.17 L262.70 111.52 L263.20 112.95 L263.70 114.45 L264.20 116.02 L264.70 117.66 L265.20 119.37 L265.70 121.15 L266.20 123.00 L266.70 124.91 L267.20 126.88 L267.70 128.92 L268.20 131.02 L268.70 133.18 L269.20 135.39 L269.70 137.66 L270.20 139.98 L270.70 142.35 L271.20 144.77 L271.70 147.23 L272.20 149.74 L272.70 152.28 L273.20 154.85 L273.70 157.46 L274.20 160.10 L274.70 162.76 L275.20 165.44 L275.70 168.15 L276.20 170.86 L276.70 173.59 L277.20 176.32 L277.70 179.05 L278.20 181.78 L278.70 184.51 L279.20 187.22 L279.70 189.92 L280.20 192.60 L280.70 195.26 L281.20 197.88 L281.70 200.48 L282.20 203.03 L282.70 205.55 L283.20 208.01 L283.70 210.43 L284.20 212.79 L284.70 215.08 L285.20 217.31 L285.70 219.47 L286.20 221.56 L286.70 223.56 L287.20 225.48 L287.70 227.32 L288.20 229.06 L288.70 230.70 L289.20 232.24 L289.70 233.68 L290.20 235.01 L290.70 236.23 L291.20 237.33 L291.70 238.31 L292.20 239.17 L292.70 239.90 L293.20 240.51 L293.70 240.98 L294.20 241.32 L294.70 241.53 L295.20 241.60 L295.71 241.54 L296.21 241.37 L296.72 241.09 L297.22 240.69 L297.73 240.17 L298.23 239.55 L298.74 238.81 L299.24 237.96 L299.75 237.01 L300.25 235.95 L300.76 234.78 L301.26 233.51 L301.77 232.13 L302.27 230.66 L302.78 229.10 L303.28 227.43 L303.79 225.68 L304.29 223.84 L304.80 221.91 L305.31 219.90 L305.81 217.82 L306.32 215.65 L306.82 213.42 L307.33 211.12 L307.83 208.76 L308.34 206.33 L308.84 203.85 L309.35 201.32 L309.85 198.74 L310.36 196.12 L310.86 193.46 L311.37 190.77 L311.87 188.05 L312.38 185.30 L312.88 182.54 L313.39 179.75 L313.89 176.96 L314.40 174.17 L314.91 171.37 L315.41 168.57 L315.92 165.79 L316.42 163.02 L316.93 160.26 L317.43 157.53 L317.94 154.83 L318.44 152.16 L318.95 149.52 L319.45 146.93 L319.96 144.38 L320.46 141.89 L320.97 139.45 L321.47 137.06 L321.98 134.74 L322.48 132.49 L322.99 130.31 L323.49 128.20 L324.00 126.17 L324.51 124.22 L325.01 122.36 L325.52 120.58 L326.02 118.90 L326.53 117.31 L327.03 115.82 L327.54 114.43 L328.04 113.14 L328.55 111.95 L329.05 110.87 L329.56 109.90 L330.06 109.04 L330.57 108.29 L331.07 107.65 L331.58 107.13 L332.08 106.72 L332.59 106.43 L333.09 106.26 L333.60 106.20 L334.10 106.26 L334.61 106.42 L335.11 106.70 L335.62 107.09 L336.12 107.59 L336.62 108.20 L337.13 108.92 L337.63 109.74 L338.14 110.67 L338.64 111.70 L339.14 112.83 L339.65 114.06 L340.15 115.38 L340.66 116.80 L341.16 118.32 L341.66 119.92 L342.17 121.60 L342.67 123.37 L343.18 125.22 L343.68 127.14 L344.19 129.14 L344.69 131.21 L345.19 133.33 L345.70 135.52 L346.20 137.77 L346.71 140.07 L347.21 142.42 L347.71 144.81 L348.22 147.24 L348.72 149.71 L349.23 152.21 L349.73 154.73 L350.23 157.28 L350.74 159.84 L351.24 162.42 L351.75 165.00 L352.25 167.59 L352.75 170.18 L353.26 172.76 L353.76 175.33 L354.27 177.88 L354.77 180.42 L355.27 182.92 L355.78 185.40 L356.28 187.85 L356.79 190.26 L357.29 192.63 L357.79 194.95 L358.30 197.22 L358.80 199.44 L359.31 201.59 L359.81 203.69 L360.31 205.72 L360.82 207.68 L361.32 209.57 L361.83 211.38 L362.33 213.11 L362.84 214.76 L363.34 216.32 L363.84 217.80 L364.35 219.18 L364.85 220.48 L365.36 221.67 L365.86 222.77 L366.36 223.78 L366.87 224.67 L367.37 225.47 L367.88 226.17 L368.38 226.76 L368.88 227.24 L369.39 227.62 L369.89 227.88 L370.40 228.05 L370.90 228.10 L371.40 228.05 L371.91 227.90 L372.41 227.65 L372.92 227.30 L373.42 226.85 L373.92 226.31 L374.43 225.67 L374.93 224.94 L375.44 224.12 L375.94 223.21 L376.44 222.22 L376.95 221.14 L377.45 219.97 L377.96 218.73 L378.46 217.41 L378.96 216.02 L379.47 214.56 L379.97 213.03 L380.48 211.44 L380.98 209.78 L381.49 208.07 L381.99 206.30 L382.49 204.49 L383.00 202.62 L383.50 200.72 L384.01 198.77 L384.51 196.79 L385.01 194.78 L385.52 192.74 L386.02 190.68 L386.53 188.60 L387.03 186.50 L387.53 184.39 L388.04 182.28 L388.54 180.15 L389.05 178.03 L389.55 175.92 L390.05 173.81 L390.56 171.71 L391.06 169.63 L391.57 167.56 L392.07 165.52 L392.57 163.50 L393.08 161.52 L393.58 159.56 L394.09 157.64 L394.59 155.77 L395.09 153.93 L395.60 152.14 L396.10 150.39 L396.61 148.70 L397.11 147.06 L397.61 145.48 L398.12 143.96 L398.62 142.49 L399.13 141.09 L399.63 139.76 L400.14 138.49 L400.64 137.29 L401.14 136.16 L401.65 135.11 L402.15 134.13 L402.66 133.22 L403.16 132.39 L403.66 131.63 L404.17 130.96 L404.67 130.36 L405.18 129.84 L405.68 129.40 L406.18 129.04 L406.69 128.76 L407.19 128.56 L407.70 128.44 L408.20 128.40 L408.70 128.44 L409.21 128.57 L409.71 128.78 L410.22 129.07 L410.72 129.44 L411.23 129.88 L411.73 130.40 L412.24 131.00 L412.74 131.66 L413.25 132.39 L413.75 133.19 L414.26 134.05 L414.76 134.97 L415.27 135.95 L415.77 136.98 L416.28 138.07 L416.78 139.20 L417.29 140.38 L417.79 141.60 L418.30 142.87 L418.80 144.16 L419.31 145.50 L419.81 146.86 L420.32 148.25 L420.82 149.67 L421.33 151.10 L421.83 152.56 L422.34 154.03 L422.84 155.51 L423.35 157.01 L423.85 158.51 L424.36 160.02 L424.86 161.53 L425.37 163.04 L425.87 164.54 L426.38 166.04 L426.88 167.53 L427.39 169.01 L427.89 170.48 L428.40 171.94 L428.90 173.37 L429.40 174.79 L429.91 176.19 L430.41 177.57 L430.92 178.92 L431.42 180.25 L431.93 181.55 L432.43 182.82 L432.94 184.06 L433.44 185.27 L433.95 186.45 L434.45 187.60 L434.96 188.71 L435.46 189.78 L435.97 190.82 L436.47 191.82 L436.98 192.79 L437.48 193.72 L437.99 194.61 L438.49 195.46 L439.00 196.27 L439.50 197.04 L440.01 197.77 L440.51 198.46 L441.02 199.11 L441.52 199.73 L442.03 200.30 L442.53 200.83 L443.04 201.32 L443.54 201.78 L444.05 202.19 L444.55 202.57 L445.06 202.90 L445.56 203.20 L446.07 203.47 L446.57 203.69 L447.08 203.88 L447.58 204.03 L448.09 204.15 L448.59 204.23 L449.10 204.28 L449.60 204.30 L450.10 204.28 L450.61 204.20 L451.11 204.08 L451.62 203.90 L452.12 203.68 L452.62 203.41 L453.13 203.09 L453.63 202.71 L454.14 202.29 L454.64 201.83 L455.14 201.31 L455.65 200.75 L456.15 200.14 L456.65 199.49 L457.16 198.79 L457.66 198.05 L458.17 197.26 L458.67 196.43 L459.17 195.57 L459.68 194.66 L460.18 193.72 L460.69 192.74 L461.19 191.72 L461.69 190.67 L462.20 189.59 L462.70 188.48 L463.21 187.34 L463.71 186.17 L464.21 184.97 L464.72 183.76 L465.22 182.52 L465.72 181.26 L466.23 179.98 L466.73 178.69 L467.24 177.39 L467.74 176.07 L468.24 174.75 L468.75 173.41 L469.25 172.08 L469.76 170.74 L470.26 169.40 L470.76 168.06 L471.27 166.72 L471.77 165.40 L472.28 164.08 L472.78 162.77 L473.28 161.47 L473.79 160.19 L474.29 158.93 L474.79 157.69 L475.30 156.47 L475.80 155.27 L476.31 154.11 L476.81 152.97 L477.31 151.86 L477.82 150.78 L478.32 149.74 L478.83 148.73 L479.33 147.76 L479.83 146.84 L480.34 145.95 L480.84 145.11 L481.35 144.32 L481.85 143.57 L482.35 142.87 L482.86 142.22 L483.36 141.62 L483.86 141.08 L484.37 140.58 L484.87 140.15 L485.38 139.77 L485.88 139.44 L486.38 139.18 L486.89 138.97 L487.39 138.82 L487.90 138.73 L488.40 138.70 L488.90 138.73 L489.41 138.83 L489.91 138.98 L490.42 139.20 L490.92 139.48 L491.43 139.82 L491.94 140.22 L492.44 140.67 L492.94 141.18 L493.45 141.74 L493.95 142.36 L494.46 143.03 L494.96 143.75 L495.47 144.51 L495.97 145.32 L496.48 146.18 L496.98 147.08 L497.49 148.01 L497.99 148.99 L498.50 150.00 L499.00 151.05 L499.51 152.13 L500.01 153.23 L500.52 154.37 L501.02 155.53 L501.53 156.72 L502.03 157.92 L502.54 159.14 L503.04 160.38 L503.55 161.64 L504.05 162.91 L504.56 164.18 L505.06 165.47 L505.57 166.75 L506.07 168.05 L506.58 169.34 L507.08 170.63 L507.59 171.92 L508.09 173.21 L508.60 174.49 L509.10 175.76 L509.61 177.02 L510.11 178.26 L510.62 179.49 L511.12 180.71 L511.63 181.91 L512.13 183.08 L512.64 184.24 L513.14 185.37 L513.65 186.48 L514.15 187.57 L514.66 188.63 L515.16 189.66 L515.67 190.66 L516.17 191.63 L516.68 192.56 L517.18 193.47 L517.69 194.34 L518.19 195.18 L518.70 195.98 L519.20 196.75 L519.71 197.48 L520.21 198.17 L520.72 198.82 L521.22 199.44 L521.73 200.01 L522.23 200.55 L522.74 201.05 L523.25 201.51 L523.75 201.93 L524.25 202.30 L524.76 202.64 L525.26 202.94 L525.77 203.19 L526.27 203.41 L526.78 203.59 L527.28 203.72 L527.79 203.82 L528.29 203.88 L528.80 203.90 L529.30 203.87 L529.81 203.77 L530.31 203.60 L530.82 203.37 L531.32 203.08 L531.82 202.72 L532.33 202.30 L532.83 201.82 L533.34 201.28 L533.84 200.68 L534.35 200.03 L534.85 199.33 L535.35 198.57 L535.86 197.76 L536.36 196.91 L536.87 196.00 L537.37 195.06 L537.88 194.07 L538.38 193.05 L538.88 191.98 L539.39 190.89 L539.89 189.76 L540.40 188.60 L540.90 187.42 L541.40 186.21 L541.91 184.98 L542.41 183.73 L542.92 182.47 L543.42 181.19 L543.92 179.90 L544.43 178.60 L544.93 177.30 L545.44 175.99 L545.94 174.68 L546.45 173.38 L546.95 172.08 L547.45 170.79 L547.96 169.50 L548.46 168.23 L548.97 166.97 L549.47 165.73 L549.98 164.51 L550.48 163.30 L550.98 162.12 L551.49 160.97 L551.99 159.84 L552.50 158.74 L553.00 157.67 L553.50 156.63 L554.01 155.63 L554.51 154.66 L555.02 153.73 L555.52 152.84 L556.02 151.98 L556.53 151.17 L557.03 150.40 L557.54 149.67 L558.04 148.98 L558.55 148.34 L559.05 147.75 L559.55 147.20 L560.06 146.70 L560.56 146.24 L561.07 145.83 L561.57 145.47 L562.08 145.16 L562.58 144.90 L563.08 144.68 L563.59 144.51 L564.09 144.40 L564.60 144.32 L565.10 144.30 L565.60 144.34 L566.11 144.44 L566.61 144.62 L567.12 144.87 L567.62 145.19 L568.13 145.57 L568.63 146.01 L569.14 146.51 L569.64 147.07 L570.14 147.69 L570.65 148.37 L571.15 149.09 L571.66 149.86 L572.16 150.67 L572.67 151.53 L573.17 152.43 L573.67 153.36 L574.18 154.33 L574.68 155.32 L575.19 156.35 L575.69 157.39 L576.20 158.46 L576.70 159.55 L577.21 160.65 L577.71 161.76 L578.21 162.88 L578.72 164.01 L579.22 165.14 L579.73 166.27 L580.23 167.40 L580.74 168.52 L581.24 169.64 L581.75 170.75 L582.25 171.84 L582.75 172.92 L583.26 173.99 L583.76 175.03 L584.27 176.06 L584.77 177.06 L585.28 178.04 L585.78 179.00 L586.29 179.93 L586.79 180.83 L587.29 181.70 L587.80 182.53 L588.30 183.34 L588.81 184.11 L589.31 184.85 L589.82 185.56 L590.32 186.23 L590.83 186.86 L591.33 187.46 L591.83 188.02 L592.34 188.54 L592.84 189.03 L593.35 189.48 L593.85 189.89 L594.36 190.26 L594.86 190.60 L595.36 190.90 L595.87 191.16 L596.37 191.39 L596.88 191.58 L597.38 191.73 L597.89 191.85 L598.39 191.93 L598.90 191.98 L599.40 192.00 L599.90 191.99 L600.41 191.94 L600.91 191.87 L601.42 191.78 L601.92 191.65 L602.42 191.50 L602.93 191.32 L603.43 191.11 L603.94 190.88 L604.44 190.61 L604.94 190.32 L605.45 190.01 L605.95 189.67 L606.46 189.30 L606.96 188.91 L607.46 188.50 L607.97 188.06 L608.47 187.60 L608.98 187.12 L609.48 186.61 L609.98 186.09 L610.49 185.54 L610.99 184.98 L611.50 184.39 L612.00 183.79 L612.50 183.18 L613.01 182.55 L613.51 181.90 L614.02 181.24 L614.52 180.57 L615.02 179.89 L615.53 179.19 L616.03 178.49 L616.54 177.79 L617.04 177.07 L617.54 176.35 L618.05 175.63 L618.55 174.90 L619.06 174.17 L619.56 173.45 L620.06 172.72 L620.57 172.00 L621.07 171.28 L621.58 170.56 L622.08 169.85 L622.58 169.15 L623.09 168.46 L623.59 167.78 L624.10 167.11 L624.60 166.45 L625.10 165.81 L625.61 165.18 L626.11 164.57 L626.62 163.98 L627.12 163.40 L627.62 162.85 L628.13 162.31 L628.63 161.80 L629.14 161.31 L629.64 160.85 L630.14 160.41 L630.65 159.99 L631.15 159.61 L631.66 159.25 L632.16 158.92 L632.66 158.62 L633.17 158.34 L633.67 158.10 L634.18 157.89 L634.68 157.71 L635.18 157.56 L635.69 157.45 L636.19 157.37 L636.70 157.32 L637.20 157.30 L637.70 157.31 L638.21 157.36 L638.71 157.43 L639.22 157.54 L639.72 157.67 L640.23 157.83 L640.73 158.02 L641.23 158.23 L641.74 158.48 L642.24 158.75 L642.75 159.04 L643.25 159.36 L643.75 159.71 L644.26 160.07 L644.76 160.46 L645.27 160.88 L645.77 161.31 L646.28 161.76 L646.78 162.23 L647.28 162.72 L647.79 163.22 L648.29 163.74 L648.80 164.28 L649.30 164.83 L649.80 165.39 L650.31 165.96 L650.81 166.54 L651.32 167.13 L651.82 167.72 L652.33 168.33 L652.83 168.94 L653.33 169.55 L653.84 170.16 L654.34 170.78 L654.85 171.40 L655.35 172.01 L655.85 172.62 L656.36 173.23 L656.86 173.84 L657.37 174.44 L657.87 175.03 L658.38 175.62 L658.88 176.20 L659.38 176.76 L659.89 177.32 L660.39 177.87 L660.90 178.40 L661.40 178.92 L661.90 179.42 L662.41 179.91 L662.91 180.38 L663.42 180.83 L663.92 181.27 L664.42 181.69 L664.93 182.09 L665.43 182.47 L665.94 182.83 L666.44 183.17 L666.95 183.48 L667.45 183.78 L667.95 184.05 L668.46 184.30 L668.96 184.53 L669.47 184.73 L669.97 184.91 L670.48 185.07 L670.98 185.20 L671.48 185.31 L671.99 185.39 L672.49 185.45 L673.00 185.49 L673.50 185.50 L674.00 185.50 L674.51 185.49 L675.01 185.47 L675.52 185.44 L676.02 185.41 L676.53 185.37 L677.03 185.32 L677.53 185.27 L678.04 185.20 L678.54 185.13 L679.05 185.05 L679.55 184.96 L680.06 184.86 L680.56 184.75 L681.06 184.64 L681.57 184.51 L682.07 184.37 L682.58 184.23 L683.08 184.07 L683.59 183.91 L684.09 183.74 L684.59 183.55 L685.10 183.36 L685.60 183.15 L686.11 182.94 L686.61 182.72 L687.11 182.48 L687.62 182.24 L688.12 181.98 L688.63 181.72 L689.13 181.45 L689.64 181.16 L690.14 180.87 L690.64 180.57 L691.15 180.26 L691.65 179.93 L692.16 179.60 L692.66 179.26 L693.17 178.91 L693.67 178.56 L694.17 178.19 L694.68 177.82 L695.18 177.43 L695.69 177.04 L696.19 176.65 L696.70 176.24 L697.20 175.83 L697.70 175.42 L698.21 174.99 L698.71 174.57 L699.22 174.13 L699.72 173.70 L700.23 173.26 L700.73 172.81 L701.23 172.37 L701.74 171.92 L702.24 171.46 L702.75 171.01 L703.25 170.56 L703.76 170.11 L704.26 169.65 L704.76 169.20 L705.27 168.75 L705.77 168.31 L706.28 167.87 L706.78 167.43 L707.29 166.99 L707.79 166.57 L708.29 166.15 L708.80 165.73 L709.30 165.33 L709.81 164.93 L710.31 164.54 L710.81 164.16 L711.32 163.80 L711.82 163.45 L712.33 163.11 L712.83 162.78 L713.34 162.47 L713.84 162.17 L714.34 161.89 L714.85 161.62 L715.35 161.37 L715.86 161.15 L716.36 160.94 L716.87 160.74 L717.37 160.57 L717.87 160.42 L718.38 160.30 L718.88 160.19 L719.39 160.11 L719.89 160.05 L720.40 160.01 L720.90 160.00 L721.40 160.01 L721.91 160.05 L722.41 160.11 L722.92 160.20 L723.42 160.31 L723.93 160.44 L724.43 160.59 L724.94 160.77 L725.44 160.98 L725.95 161.20 L726.45 161.44 L726.95 161.71 L727.46 161.99 L727.96 162.29 L728.47 162.62 L728.97 162.96 L729.48 163.31 L729.98 163.68 L730.49 164.07 L730.99 164.47 L731.50 164.88 L732.00 165.31 L732.50 165.74 L733.01 166.19 L733.51 166.65 L734.02 167.11 L734.52 167.58 L735.03 168.05 L735.53 168.53 L736.04 169.01 L736.54 169.50 L737.05 169.98 L737.55 170.47 L738.05 170.95 L738.56 171.44 L739.06 171.92 L739.57 172.39 L740.07 172.86 L740.58 173.32 L741.08 173.78 L741.59 174.23 L742.09 174.66 L742.60 175.09 L743.10 175.51 L743.60 175.91 L744.11 176.30 L744.61 176.68 L745.12 177.04 L745.62 177.39 L746.13 177.72 L746.63 178.03 L747.14 178.33 L747.64 178.61 L748.15 178.87 L748.65 179.11 L749.15 179.33 L749.66 179.53 L750.16 179.71 L750.67 179.87 L751.17 180.01 L751.68 180.13 L752.18 180.23 L752.69 180.30 L753.19 180.36 L753.70 180.39 L754.20 180.40 L754.71 180.39 L755.21 180.36 L755.72 180.30 L756.22 180.23 L756.73 180.14 L757.23 180.02 L757.74 179.88 L758.24 179.73 L758.75 179.56 L759.25 179.36 L759.76 179.15 L760.26 178.92 L760.77 178.68 L761.27 178.41 L761.78 178.14 L762.28 177.84 L762.79 177.54 L763.29 177.22 L763.80 176.89 L764.30 176.55 L764.81 176.19 L765.31 175.83 L765.82 175.46 L766.32 175.09 L766.83 174.71 L767.33 174.32 L767.84 173.93 L768.34 173.54 L768.85 173.15 L769.36 172.76 L769.86 172.37 L770.37 171.98 L770.87 171.59 L771.38 171.21 L771.88 170.83 L772.39 170.47 L772.89 170.11 L773.40 169.75 L773.90 169.41 L774.41 169.08 L774.91 168.76 L775.42 168.46 L775.92 168.16 L776.43 167.89 L776.93 167.62 L777.44 167.38 L777.94 167.15 L778.45 166.94 L778.95 166.74 L779.46 166.57 L779.96 166.41 L780.47 166.28 L780.97 166.16 L781.48 166.07 L781.98 166.00 L782.49 165.94 L782.99 165.91 L783.50 165.90 L784.01 165.90 L784.51 165.90 L785.02 165.91 L785.52 165.92 L786.03 165.93 L786.53 165.95 L787.04 165.97 L787.54 165.99 L788.05 166.01 L788.55 166.04 L789.06 166.08 L789.56 166.12 L790.07 166.16 L790.57 166.21 L791.08 166.26 L791.58 166.32 L792.09 166.38 L792.59 166.45 L793.10 166.53 L793.60 166.61 L794.11 166.69 L794.61 166.79 L795.12 166.89 L795.62 166.99 L796.13 167.11 L796.63 167.23 L797.14 167.36 L797.64 167.49 L798.15 167.63 L798.65 167.78 L799.16 167.94 L799.66 168.10 L800.17 168.27 L800.67 168.45 L801.18 168.64 L801.68 168.83 L802.19 169.03 L802.69 169.24 L803.20 169.45 L803.70 169.67 L804.21 169.90 L804.71 170.13 L805.22 170.37 L805.72 170.62 L806.23 170.87 L806.73 171.13 L807.24 171.39 L807.74 171.65 L808.25 171.92 L808.75 172.19 L809.26 172.47 L809.76 172.75 L810.27 173.02 L810.77 173.30 L811.28 173.58 L811.78 173.86 L812.29 174.14 L812.79 174.41 L813.30 174.68 L813.80 174.95 L814.31 175.21 L814.81 175.47 L815.32 175.72 L815.82 175.96 L816.33 176.19 L816.83 176.42 L817.34 176.63 L817.84 176.83 L818.35 177.02 L818.85 177.19 L819.36 177.36 L819.86 177.50 L820.37 177.63 L820.87 177.74 L821.38 177.83 L821.88 177.90 L822.39 177.96 L822.89 177.99 L823.40 178.00 L823.90 177.99 L824.41 177.98 L824.91 177.95 L825.42 177.91 L825.92 177.85 L826.42 177.79 L826.93 177.72 L827.43 177.63 L827.94 177.54 L828.44 177.43 L828.94 177.32 L829.45 177.20 L829.95 177.06 L830.46 176.92 L830.96 176.77 L831.46 176.61 L831.97 176.45 L832.47 176.27 L832.98 176.09 L833.48 175.91 L833.99 175.72 L834.49 175.52 L834.99 175.32 L835.50 175.11 L836.00 174.90 L836.51 174.68 L837.01 174.46 L837.51 174.24 L838.02 174.02 L838.52 173.79 L839.03 173.57 L839.53 173.34 L840.03 173.11 L840.54 172.88 L841.04 172.65 L841.55 172.42 L842.05 172.20 L842.55 171.97 L843.06 171.75 L843.56 171.53 L844.07 171.31 L844.57 171.09 L845.07 170.88 L845.58 170.67 L846.08 170.47 L846.59 170.27 L847.09 170.07 L847.59 169.88 L848.10 169.69 L848.60 169.51 L849.11 169.34 L849.61 169.17 L850.11 169.01 L850.62 168.85 L851.12 168.71 L851.63 168.56 L852.13 168.43 L852.64 168.30 L853.14 168.18 L853.64 168.07 L854.15 167.96 L854.65 167.86 L855.16 167.77 L855.66 167.69 L856.16 167.62 L856.67 167.55 L857.17 167.49 L857.68 167.44 L858.18 167.40 L858.68 167.36 L859.19 167.33 L859.69 167.32 L860.20 167.30 L860.70 167.30 L861.21 167.31 L861.71 167.32 L862.22 167.35 L862.72 167.38 L863.23 167.42 L863.73 167.48 L864.24 167.54 L864.74 167.61 L865.25 167.68 L865.75 167.77 L866.26 167.86 L866.76 167.96 L867.27 168.07 L867.77 168.18 L868.28 168.30 L868.78 168.42 L869.29 168.55 L869.79 168.68 L870.30 168.82 L870.81 168.96 L871.31 169.10 L871.82 169.25 L872.32 169.39 L872.83 169.54 L873.33 169.70 L873.84 169.85 L874.34 170.00 L874.85 170.16 L875.35 170.31 L875.86 170.47 L876.36 170.62 L876.87 170.78 L877.37 170.93 L877.88 171.08 L878.38 171.23 L878.89 171.38 L879.39 171.53 L879.90 171.67 L880.41 171.81 L880.91 171.95 L881.42 172.09 L881.92 172.22 L882.43 172.35 L882.93 172.48 L883.44 172.60 L883.94 172.72 L884.45 172.83 L884.95 172.94 L885.46 173.05 L885.96 173.15 L886.47 173.25 L886.97 173.35 L887.48 173.44 L887.98 173.53 L888.49 173.61 L888.99 173.69 L889.50 173.76 L890.01 173.83 L890.51 173.89 L891.02 173.96 L891.52 174.01 L892.03 174.06 L892.53 174.11 L893.04 174.16 L893.54 174.20 L894.05 174.23 L894.55 174.27 L895.06 174.30 L895.56 174.32 L896.07 174.34 L896.57 174.36 L897.08 174.38 L897.58 174.39 L898.09 174.39 L898.59 174.40 L899.10 174.40 L899.60 174.40 L900.11 174.39 L900.61 174.39 L901.12 174.38 L901.62 174.36 L902.13 174.35 L902.63 174.33 L903.14 174.30 L903.64 174.28 L904.14 174.25 L904.65 174.22 L905.15 174.18 L905.66 174.15 L906.16 174.11 L906.67 174.06 L907.17 174.02 L907.67 173.97 L908.18 173.91 L908.68 173.86 L909.19 173.80 L909.69 173.74 L910.20 173.68 L910.70 173.62 L911.21 173.55 L911.71 173.48 L912.21 173.41 L912.72 173.34 L913.22 173.26 L913.73 173.18 L914.23 173.11 L914.74 173.03 L915.24 172.95 L915.75 172.87 L916.25 172.78 L916.75 172.70 L917.26 172.62 L917.76 172.53 L918.27 172.45 L918.77 172.36 L919.28 172.28 L919.78 172.20 L920.29 172.11 L920.79 172.03 L921.29 171.95 L921.80 171.87 L922.30 171.79 L922.81 171.72 L923.31 171.64 L923.82 171.57 L924.32 171.50 L924.83 171.43 L925.33 171.36 L925.83 171.30 L926.34 171.24 L926.84 171.18 L927.35 171.13 L927.85 171.08 L928.36 171.03 L928.86 170.99 L929.36 170.95 L929.87 170.92 L930.37 170.89 L930.88 170.86 L931.38 170.84 L931.89 170.82 L932.39 170.81 L932.90 170.80 L933.40 170.80 L933.90 170.80 L934.40 170.81 L934.91 170.81 L935.41 170.82 L935.91 170.84 L936.41 170.85 L936.91 170.87 L937.41 170.90 L937.92 170.92 L938.42 170.95 L938.92 170.98 L939.42 171.02 L939.92 171.05 L940.42 171.09 L940.93 171.14 L941.43 171.18 L941.93 171.23 L942.43 171.28 L942.93 171.33 L943.44 171.39 L943.94 171.44 L944.44 171.50 L944.94 171.56 L945.44 171.62 L945.94 171.68 L946.45 171.75 L946.95 171.81 L947.45 171.88 L947.95 171.94 L948.45 172.01 L948.95 172.08 L949.46 172.14 L949.96 172.21 L950.46 172.28 L950.96 172.34 L951.46 172.40 L951.96 172.47 L952.47 172.53 L952.97 172.59 L953.47 172.65 L953.97 172.71 L954.47 172.76 L954.98 172.81 L955.48 172.86 L955.98 172.91 L956.48 172.95 L956.98 172.99 L957.48 173.03 L957.99 173.07 L958.49 173.10 L958.99 173.12 L959.49 173.15 L959.99 173.17 L960.10 173.17" stroke="#0000a0" stroke-dasharray="13 3.1 2.6 3.1" stroke-dashoffset="18.66"/>
<path d="M125.00 171.95 L125.05 172.62 L125.55 179.97 L126.05 187.28 L126.56 194.55 L127.06 201.75 L127.57 208.87 L128.07 215.89 L128.58 222.81 L129.08 229.60 L129.59 236.26 L130.09 242.77 L130.59 249.12 L131.10 255.29 L131.60 261.28 L132.11 267.07 L132.61 272.66 L133.12 278.03 L133.62 283.18 L134.12 288.09 L134.63 292.76 L135.13 297.18 L135.64 301.34 L136.14 305.23 L136.65 308.86 L137.15 312.21 L137.66 315.28 L138.16 318.07 L138.66 320.57 L139.17 322.78 L139.67 324.70 L140.18 326.32 L140.68 327.65 L141.19 328.68 L141.69 329.41 L142.20 329.85 L142.70 330.00 L143.20 329.86 L143.71 329.44 L144.21 328.73 L144.72 327.75 L145.22 326.48 L145.73 324.93 L146.23 323.10 L146.74 321.00 L147.24 318.62 L147.74 315.98 L148.25 313.07 L148.75 309.89 L149.26 306.46 L149.76 302.79 L150.27 298.86 L150.77 294.70 L151.27 290.31 L151.78 285.70 L152.28 280.87 L152.79 275.84 L153.29 270.62 L153.80 265.21 L154.30 259.62 L154.81 253.87 L155.31 247.97 L155.81 241.92 L156.32 235.75 L156.82 229.46 L157.33 223.06 L157.83 216.58 L158.34 210.01 L158.84 203.38 L159.35 196.71 L159.85 189.99 L160.35 183.25 L160.86 176.51 L161.36 169.77 L161.87 163.05 L162.37 156.37 L162.88 149.74 L163.38 143.18 L163.89 136.69 L164.39 130.30 L164.89 124.02 L165.40 117.86 L165.90 111.84 L166.41 105.97 L166.91 100.27 L167.42 94.74 L167.92 89.41 L168.43 84.28 L168.93 79.37 L169.43 74.68 L169.94 70.24 L170.44 66.05 L170.95 62.12 L171.45 58.46 L171.96 55.09 L172.46 52.01 L172.96 49.22 L173.47 46.74 L173.97 44.58 L174.48 42.74 L174.98 41.22 L175.49 40.03 L175.99 39.18 L176.50 38.67 L177.00 38.50 L177.50 38.61 L178.01 38.93 L178.51 39.46 L179.02 40.20 L179.52 41.15 L180.02 42.31 L180.53 43.67 L181.03 45.24 L181.54 47.00 L182.04 48.97 L182.54 51.12 L183.05 53.47 L183.55 56.00 L184.06 58.71 L184.56 61.59 L185.06 64.64 L185.57 67.86 L186.07 71.24 L186.58 74.76 L187.08 78.43 L187.59 82.25 L188.09 86.19 L188.59 90.25 L189.10 94.44 L189.60 98.73 L190.11 103.13 L190.61 107.61 L191.11 112.19 L191.62 116.84 L192.12 121.56 L192.63 126.34 L193.13 131.17 L193.63 136.04 L194.14 140.95 L194.64 145.88 L195.15 150.83 L195.65 155.79 L196.15 160.74 L196.66 165.68 L197.16 170.61 L197.67 175.50 L198.17 180.36 L198.67 185.17 L199.18 189.93 L199.68 194.63 L200.19 199.25 L200.69 203.79 L201.19 208.25 L201.70 212.61 L202.20 216.86 L202.71 221.01 L203.21 225.03 L203.71 228.93 L204.22 232.70 L204.72 236.33 L205.23 239.81 L205.73 243.14 L206.24 246.31 L206.74 249.32 L207.24 252.16 L207.75 254.83 L208.25 257.32 L208.76 259.62 L209.26 261.74 L209.76 263.67 L210.27 265.40 L210.77 266.94 L211.28 268.27 L211.78 269.41 L212.28 270.34 L212.79 271.06 L213.29 271.58 L213.80 271.90 L214.30 272.00 L214.80 271.88 L215.31 271.50 L215.81 270.89 L216.31 270.05 L216.81 268.97 L217.32 267.68 L217.82 266.17 L218.32 264.46 L218.83 262.55 L219.33 260.46 L219.83 258.19 L220.33 255.75 L220.84 253.15 L221.34 250.41 L221.84 247.53 L222.35 244.53 L222.85 241.40 L223.35 238.18 L223.85 234.85 L224.36 231.45 L224.86 227.96 L225.36 224.42 L225.86 220.82 L226.37 217.17 L226.87 213.50 L227.37 209.79 L227.88 206.08 L228.38 202.35 L228.88 198.63 L229.38 194.92 L229.89 191.22 L230.39 187.56 L230.89 183.93 L231.40 180.34 L231.90 176.80 L232.40 173.31 L232.90 169.89 L233.41 166.53 L233.91 163.24 L234.41 160.03 L234.92 156.90 L235.42 153.86 L235.92 150.91 L236.42 148.05 L236.93 145.29 L237.43 142.63 L237.93 140.07 L238.44 137.61 L238.94 135.26 L239.44 133.02 L239.94 130.89 L240.45 128.87 L240.95 126.96 L241.45 125.16 L241.95 123.48 L242.46 121.90 L242.96 120.44 L243.46 119.09 L243.97 117.84 L244.47 116.71 L244.97 115.68 L245.47 114.77 L245.98 113.95 L246.48 113.24 L246.98 112.63 L247.49 112.12 L247.99 111.71 L248.49 111.40 L248.99 111.18 L249.50 111.04 L250.00 111.00 L250.50 111.09 L251.00 111.35 L251.50 111.79 L252.00 112.38 L252.50 113.14 L253.00 114.04 L253.50 115.09 L254.00 116.28 L254.50 117.59 L255.00 119.02 L255.50 120.56 L256.00 122.20 L256.50 123.94 L257.00 125.76 L257.50 127.66 L258.00 129.62 L258.50 131.64 L259.00 133.71 L259.50 135.82 L260.00 137.96 L260.50 140.13 L261.00 142.31 L261.50 144.51 L262.00 146.70 L262.50 148.89 L263.00 151.06 L263.50 153.22 L264.00 155.35 L264.50 157.46 L265.00 159.52 L265.50 161.55 L266.00 163.53 L266.50 165.46 L267.00 167.34 L267.50 169.16 L268.00 170.92 L268.50 172.62 L269.00 174.26 L269.50 175.82 L270.00 177.32 L270.50 178.75 L271.00 180.11 L271.50 181.39 L272.00 182.60 L272.50 183.74 L273.00 184.80 L273.50 185.79 L274.00 186.71 L274.50 187.55 L275.00 188.33 L275.50 189.03 L276.00 189.66 L276.50 190.23 L277.00 190.73 L277.50 191.16 L278.00 191.53 L278.50 191.83 L279.00 192.08 L279.50 192.27 L280.00 192.40 L280.50 192.47 L281.00 192.50 L281.51 192.48 L282.01 192.42 L282.52 192.32 L283.02 192.17 L283.53 191.99 L284.04 191.77 L284.54 191.51 L285.05 191.21 L285.56 190.88 L286.06 190.52 L286.57 190.12 L287.07 189.69 L287.58 189.23 L288.09 188.74 L288.59 188.23 L289.10 187.70 L289.61 187.15 L290.11 186.57 L290.62 185.99 L291.12 185.38 L291.63 184.77 L292.14 184.15 L292.64 183.53 L293.15 182.90 L293.66 182.27 L294.16 181.65 L294.67 181.03 L295.18 180.42 L295.68 179.81 L296.19 179.23 L296.69 178.65 L297.20 178.10 L297.71 177.57 L298.21 177.06 L298.72 176.57 L299.23 176.11 L299.73 175.68 L300.24 175.28 L300.74 174.92 L301.25 174.59 L301.76 174.29 L302.26 174.03 L302.77 173.81 L303.28 173.63 L303.78 173.48 L304.29 173.38 L304.79 173.32 L305.30 173.30 L305.80 173.32 L306.31 173.37 L306.81 173.45 L307.32 173.56 L307.82 173.70 L308.32 173.88 L308.83 174.09 L309.33 174.32 L309.84 174.58 L310.34 174.88 L310.84 175.19 L311.35 175.54 L311.85 175.90 L312.36 176.29 L312.86 176.70 L313.36 177.13 L313.87 177.58 L314.37 178.04 L314.88 178.51 L315.38 179.00 L315.88 179.50 L316.39 180.00 L316.89 180.52 L317.40 181.03 L317.90 181.55 L318.40 182.07 L318.91 182.58 L319.41 183.10 L319.92 183.60 L320.42 184.10 L320.92 184.59 L321.43 185.06 L321.93 185.52 L322.44 185.97 L322.94 186.40 L323.44 186.81 L323.95 187.20 L324.45 187.56 L324.96 187.91 L325.46 188.22 L325.96 188.52 L326.47 188.78 L326.97 189.01 L327.48 189.22 L327.98 189.40 L328.48 189.54 L328.99 189.65 L329.49 189.73 L330.00 189.78 L330.50 189.80 L331.01 189.78 L331.51 189.71 L332.02 189.60 L332.52 189.43 L333.03 189.22 L333.53 188.96 L334.04 188.64 L334.54 188.27 L335.05 187.85 L335.55 187.37 L336.06 186.84 L336.56 186.25 L337.07 185.60 L337.57 184.89 L338.08 184.13 L338.58 183.31 L339.09 182.43 L339.59 181.50 L340.10 180.51 L340.60 179.46 L341.11 178.36 L341.61 177.21 L342.12 176.01 L342.62 174.76 L343.13 173.47 L343.63 172.13 L344.14 170.75 L344.64 169.33 L345.15 167.88 L345.66 166.40 L346.16 164.89 L346.67 163.36 L347.17 161.81 L347.68 160.25 L348.18 158.68 L348.69 157.11 L349.19 155.54 L349.70 153.98 L350.20 152.43 L350.71 150.91 L351.21 149.41 L351.72 147.95 L352.22 146.52 L352.73 145.15 L353.23 143.83 L353.74 142.56 L354.24 141.37 L354.75 140.24 L355.25 139.20 L355.76 138.25 L356.26 137.38 L356.77 136.62 L357.27 135.96 L357.78 135.41 L358.28 134.97 L358.79 134.66 L359.29 134.46 L359.80 134.40 L360.30 134.43 L360.81 134.53 L361.31 134.69 L361.81 134.92 L362.31 135.22 L362.82 135.59 L363.32 136.02 L363.82 136.52 L364.33 137.10 L364.41 137.21" stroke="#808000" stroke-dasharray="8.6 9.1" stroke-dashoffset="4.09"/>
<path d="M371.86 153.72 L371.87 153.74 L372.37 155.34 L372.88 156.98 L373.38 158.68 L373.88 160.41 L374.39 162.19 L374.89 164.00 L375.39 165.85 L375.90 167.73 L376.40 169.64 L376.90 171.57 L377.40 173.52 L377.91 175.48 L378.41 177.46 L378.91 179.44 L379.42 181.42 L379.92 183.39 L380.42 185.36 L380.93 187.32 L381.43 189.26 L381.93 191.17 L382.43 193.06 L382.94 194.91 L383.44 196.73 L383.94 198.50 L384.45 200.22 L384.95 201.89 L385.45 203.50 L385.96 205.04 L386.46 206.52 L386.96 207.92 L387.46 209.24 L387.97 210.48 L388.47 211.62 L388.97 212.68 L389.48 213.64 L389.98 214.50 L390.48 215.25 L390.99 215.90 L391.49 216.43 L391.99 216.85 L392.49 217.16 L393.00 217.34 L393.50 217.40 L394.00 217.37 L394.50 217.28 L395.00 217.14 L395.50 216.93 L396.00 216.67 L396.50 216.34 L397.00 215.96 L397.50 215.51 L398.00 215.00 L398.50 214.43 L399.00 213.80 L399.50 213.11 L400.00 212.36 L400.50 211.54 L401.00 210.67 L401.50 209.73 L402.00 208.74 L402.50 207.69 L403.00 206.58 L403.50 205.42 L404.00 204.19 L404.50 202.92 L405.00 201.59 L405.50 200.21 L406.00 198.78 L406.50 197.30 L407.00 195.78 L407.50 194.21 L408.00 192.59 L408.50 190.94 L409.00 189.25 L409.50 187.52 L410.00 185.76 L410.50 183.97 L411.00 182.15 L411.50 180.30 L412.00 178.43 L412.50 176.54 L413.00 174.64 L413.50 172.72 L414.00 170.79 L414.50 168.86 L415.00 166.92 L415.50 164.98 L416.00 163.05 L416.50 161.12 L417.00 159.21 L417.50 157.30 L418.00 155.42 L418.50 153.56 L419.00 151.73 L419.50 149.93 L420.00 148.16 L420.50 146.42 L421.00 144.73 L421.50 143.09 L422.00 141.49 L422.50 139.95 L423.00 138.46 L423.50 137.03 L424.00 135.67 L424.50 134.38 L425.00 133.15 L425.50 132.00 L426.00 130.93 L426.50 129.93 L427.00 129.02 L427.50 128.20 L428.00 127.46 L428.50 126.82 L429.00 126.27 L429.50 125.82 L430.00 125.46 L430.50 125.21 L431.00 125.05 L431.50 125.00 L432.00 125.06 L432.50 125.24 L433.00 125.54 L433.50 125.95 L434.00 126.48 L434.50 127.12 L435.00 127.88 L435.50 128.74 L436.00 129.71 L436.50 130.78 L437.00 131.95 L437.50 133.21 L438.00 134.57 L438.50 136.02 L439.00 137.55 L439.50 139.16 L440.00 140.84 L440.50 142.60 L441.00 144.41 L441.50 146.29 L442.00 148.23 L442.50 150.21 L443.00 152.23 L443.50 154.30 L444.00 156.40 L444.50 158.52 L445.00 160.67 L445.50 162.83 L446.00 165.00 L446.50 167.17 L447.00 169.35 L447.50 171.52 L448.00 173.67 L448.50 175.81 L449.00 177.93 L449.50 180.01 L450.00 182.07 L450.50 184.08 L451.00 186.05 L451.50 187.98 L451.65 188.54" stroke="#808000" stroke-dasharray="8.6 9.1" stroke-dashoffset="0.00"/>
<path d="M457.90 206.55 L458.00 206.73 L458.50 207.58 L459.00 208.33 L459.50 208.98 L460.00 209.54 L460.50 209.99 L461.00 210.34 L461.50 210.60 L462.00 210.75 L462.50 210.80 L463.00 210.77 L463.51 210.67 L464.01 210.50 L464.52 210.27 L465.02 209.97 L465.53 209.59 L466.03 209.15 L466.54 208.64 L467.04 208.07 L467.55 207.42 L468.05 206.70 L468.56 205.91 L469.06 205.06 L469.57 204.14 L470.07 203.15 L470.58 202.10 L471.08 200.99 L471.59 199.81 L472.09 198.57 L472.60 197.28 L473.10 195.93 L473.60 194.52 L474.11 193.07 L474.61 191.56 L475.12 190.01 L475.62 188.42 L476.13 186.79 L476.63 185.12 L477.14 183.43 L477.64 181.70 L478.15 179.95 L478.65 178.18 L479.16 176.39 L479.66 174.59 L480.17 172.79 L480.67 170.98 L481.18 169.17 L481.68 167.37 L482.19 165.59 L482.69 163.82 L483.20 162.07 L483.70 160.36 L484.20 158.67 L484.71 157.02 L485.21 155.42 L485.72 153.86 L486.22 152.36 L486.73 150.91 L487.23 149.53 L487.74 148.22 L488.24 146.98 L488.75 145.82 L489.25 144.74 L489.76 143.74 L490.26 142.84 L490.77 142.03 L491.27 141.32 L491.78 140.71 L492.28 140.21 L492.79 139.82 L493.29 139.53 L493.80 139.36 L494.30 139.30 L494.80 139.33 L495.31 139.40 L495.81 139.53 L496.31 139.71 L496.82 139.94 L497.32 140.23 L497.82 140.57 L498.32 140.96 L498.83 141.40 L499.33 141.90 L499.83 142.45 L500.34 143.05 L500.84 143.70 L501.34 144.41 L501.85 145.16 L502.35 145.96 L502.85 146.81 L503.35 147.71 L503.86 148.65 L504.36 149.63 L504.86 150.66 L505.37 151.73 L505.87 152.84 L506.37 153.98 L506.88 155.16 L507.38 156.37 L507.88 157.62 L508.38 158.89 L508.89 160.19 L509.39 161.51 L509.89 162.85 L510.40 164.20 L510.90 165.58 L511.40 166.96 L511.91 168.35 L512.41 169.75 L512.91 171.15 L513.42 172.55 L513.92 173.94 L514.42 175.33 L514.92 176.70 L515.36 177.88" stroke="#808000" stroke-dasharray="8.6 9.1" stroke-dashoffset="0.00"/>
<path d="M517.75 184.04 L517.94 184.51 L518.45 185.71 L518.95 186.86 L519.45 187.97 L519.95 189.04 L520.46 190.06 L520.96 191.02 L521.46 191.93 L521.97 192.78 L522.47 193.57 L522.97 194.29 L523.48 194.94 L523.98 195.53 L524.48 196.04 L524.98 196.48 L525.49 196.85 L525.99 197.13 L526.49 197.33 L527.00 197.46 L527.50 197.50 L528.00 197.46 L528.50 197.36 L529.00 197.18 L529.51 196.94 L530.01 196.63 L530.51 196.26 L531.01 195.82 L531.51 195.32 L532.01 194.76 L532.51 194.15 L533.02 193.48 L533.52 192.75 L534.02 191.98 L534.52 191.16 L535.02 190.29 L535.52 189.38 L536.03 188.43 L536.53 187.44 L537.03 186.42 L537.53 185.36 L538.03 184.28 L538.53 183.18 L539.03 182.05 L539.54 180.90 L540.04 179.73 L540.54 178.55 L541.04 177.36 L541.54 176.17 L542.04 174.97 L542.54 173.76 L543.05 172.56 L543.55 171.36 L544.05 170.16 L544.55 168.98 L545.05 167.81 L545.55 166.65 L546.06 165.50 L546.56 164.38 L547.06 163.27 L547.56 162.19 L548.06 161.13 L548.56 160.10 L549.06 159.10 L549.57 158.13 L550.07 157.19 L550.57 156.29 L551.07 155.42 L551.57 154.58 L552.07 153.79 L552.57 153.03 L553.08 152.31 L553.58 151.64 L554.08 151.00 L554.58 150.41 L555.08 149.86 L555.58 149.35 L556.09 148.89 L556.59 148.47 L557.09 148.10 L557.59 147.77 L558.09 147.48 L558.59 147.24 L559.09 147.05 L559.60 146.89 L560.10 146.79 L560.60 146.72 L561.10 146.70 L561.60 146.74 L562.11 146.86 L562.61 147.05 L563.11 147.33 L563.62 147.68 L564.12 148.11 L564.62 148.61 L565.13 149.19 L565.63 149.84 L566.14 150.55 L566.64 151.34 L567.14 152.19 L567.65 153.10 L568.15 154.07 L568.65 155.10 L569.16 156.18 L569.66 157.31 L570.16 158.49 L570.67 159.71 L571.17 160.97 L571.67 162.26 L572.18 163.59 L572.68 164.94 L573.19 166.31 L573.69 167.71 L574.19 169.11 L574.70 170.53 L575.20 171.95 L575.70 173.37 L576.21 174.79 L576.71 176.20 L577.21 177.60 L577.72 178.97 L578.22 180.33 L578.73 181.66 L579.23 182.97 L579.73 184.23 L580.24 185.46 L580.74 186.65 L581.24 187.79 L581.75 188.88 L582.25 189.92 L582.75 190.90 L583.26 191.83 L583.76 192.69 L584.26 193.48 L584.77 194.21 L585.27 194.87 L585.77 195.45 L586.28 195.96 L586.78 196.40 L587.29 196.76 L587.79 197.04 L588.29 197.24 L588.80 197.36 L589.30 197.40 L589.80 197.37 L590.31 197.28 L590.81 197.12 L591.31 196.91 L591.81 196.64 L592.32 196.30 L592.82 195.92 L593.32 195.47 L593.83 194.97 L594.33 194.42 L594.83 193.82 L595.34 193.17 L595.84 192.47 L596.34 191.72 L596.84 190.93 L597.35 190.10 L597.85 189.23 L598.35 188.33 L598.86 187.38 L599.36 186.41 L599.86 185.41 L600.36 184.38 L600.87 183.32 L601.37 182.24 L601.87 181.14 L602.38 180.03 L602.88 178.90 L603.38 177.76 L603.89 176.61 L604.39 175.45 L604.89 174.28 L605.39 173.12 L605.90 171.96 L606.40 170.80 L606.90 169.64 L607.41 168.50 L607.91 167.36 L608.41 166.24 L608.91 165.13 L609.42 164.04 L609.92 162.97 L610.42 161.92 L610.93 160.90 L611.43 159.90 L611.73 159.32" stroke="#808000" stroke-dasharray="8.6 9.1" stroke-dashoffset="0.00"/>
<path d="M627.93 149.59 L628.04 149.70 L628.55 150.27 L629.05 150.90 L629.56 151.58 L630.06 152.32 L630.57 153.10 L631.07 153.93 L631.58 154.80 L632.08 155.72 L632.59 156.67 L633.09 157.67 L633.60 158.70 L634.10 159.76 L634.61 160.85 L635.11 161.97 L635.62 163.11 L636.12 164.28 L636.63 165.46 L637.13 166.65 L637.64 167.86 L638.14 169.07 L638.65 170.29 L639.15 171.51 L639.66 172.73 L640.16 173.94 L640.67 175.15 L641.17 176.34 L641.68 177.52 L642.18 178.69 L642.69 179.83 L643.19 180.95 L643.70 182.04 L644.20 183.10 L644.71 184.13 L645.21 185.13 L645.72 186.08 L646.22 187.00 L646.73 187.87 L647.23 188.70 L647.74 189.48 L648.24 190.22 L648.75 190.90 L649.25 191.53 L649.76 192.10 L650.26 192.62 L650.77 193.08 L651.27 193.48 L651.78 193.82 L652.28 194.10 L652.79 194.32 L653.29 194.47 L653.80 194.57 L654.30 194.60 L654.80 194.58 L655.31 194.51 L655.81 194.39 L656.32 194.23 L656.82 194.03 L657.33 193.78 L657.83 193.49 L658.34 193.15 L658.84 192.77 L659.34 192.35 L659.85 191.88 L660.35 191.38 L660.86 190.84 L661.36 190.26 L661.87 189.64 L662.37 188.99 L662.88 188.30 L663.38 187.58 L663.88 186.84 L664.39 186.06 L664.89 185.25 L665.40 184.42 L665.90 183.56 L666.41 182.68 L666.91 181.78 L667.41 180.87 L667.92 179.93 L668.42 178.98 L668.93 178.02 L669.43 177.05 L669.94 176.07 L670.44 175.08 L670.95 174.09 L671.45 173.10 L671.95 172.11 L672.46 171.12 L672.96 170.13 L673.47 169.15 L673.97 168.18 L674.48 167.22 L674.98 166.27 L675.49 165.33 L675.99 164.42 L676.49 163.52 L677.00 162.64 L677.50 161.78 L678.01 160.95 L678.51 160.14 L679.02 159.36 L679.52 158.62 L680.02 157.90 L680.53 157.21 L681.03 156.56 L681.54 155.94 L682.04 155.36 L682.55 154.82 L683.05 154.32 L683.56 153.85 L684.06 153.43 L684.56 153.05 L685.07 152.71 L685.57 152.42 L686.08 152.17 L686.58 151.97 L687.09 151.81 L687.59 151.69 L688.10 151.62 L688.60 151.60 L689.10 151.62 L689.61 151.69 L690.11 151.81 L690.62 151.97 L691.12 152.18 L691.63 152.43 L692.13 152.73 L692.64 153.07 L693.14 153.45 L693.65 153.88 L694.15 154.35 L694.66 154.85 L695.16 155.40 L695.67 155.98 L696.17 156.60 L696.67 157.25 L697.18 157.94 L697.68 158.66 L698.19 159.40 L698.69 160.18 L699.20 160.98 L699.70 161.80 L700.21 162.65 L700.71 163.51 L701.22 164.40 L701.72 165.30 L702.23 166.21 L702.73 167.13 L703.24 168.07 L703.74 169.01 L704.25 169.95 L704.75 170.90 L705.25 171.85 L705.76 172.79 L706.26 173.73 L706.77 174.67 L707.27 175.59 L707.78 176.50 L708.28 177.40 L708.79 178.29 L709.29 179.15 L709.80 180.00 L710.30 180.82 L710.81 181.62 L711.31 182.40 L711.82 183.14 L712.32 183.86 L712.83 184.55 L713.33 185.20 L713.83 185.82 L714.34 186.40 L714.84 186.95 L715.35 187.45 L715.85 187.92 L716.36 188.35 L716.86 188.73 L717.37 189.07 L717.87 189.37 L718.38 189.62 L718.88 189.83 L719.39 189.99 L719.89 190.11 L720.40 190.18 L720.90 190.20 L721.41 190.17 L721.91 190.10 L722.42 189.97 L722.92 189.79 L723.43 189.56 L723.93 189.28 L724.44 188.96 L724.94 188.58 L725.45 188.16 L725.70 187.93" stroke="#808000" stroke-dasharray="8.6 9.1" stroke-dashoffset="0.00"/>
<path d="M731.80 179.55 L732.01 179.18 L732.52 178.29 L733.02 177.38 L733.53 176.46 L734.03 175.53 L734.54 174.59 L735.04 173.65 L735.55 172.70 L736.06 171.75 L736.56 170.81 L737.07 169.87 L737.57 168.94 L738.08 168.02 L738.58 167.11 L739.09 166.22 L739.59 165.35 L740.10 164.50 L740.60 163.68 L741.11 162.88 L741.61 162.11 L742.12 161.37 L742.62 160.67 L743.13 160.00 L743.63 159.36 L744.14 158.77 L744.64 158.22 L745.15 157.70 L745.65 157.24 L746.16 156.82 L746.66 156.44 L747.17 156.12 L747.67 155.84 L748.18 155.61 L748.68 155.43 L749.19 155.30 L749.69 155.23 L750.20 155.20 L750.70 155.22 L751.20 155.27 L751.70 155.35 L752.21 155.47 L752.71 155.62 L753.21 155.80 L753.71 156.01 L754.21 156.26 L754.71 156.53 L755.21 156.84 L755.72 157.18 L756.22 157.55 L756.72 157.94 L757.22 158.37 L757.72 158.82 L758.22 159.30 L758.72 159.80 L759.23 160.33 L759.73 160.88 L760.23 161.45 L760.73 162.05 L761.23 162.66 L761.73 163.29 L762.23 163.94 L762.74 164.61 L763.24 165.29 L763.74 165.99 L764.24 166.70 L764.74 167.41 L765.24 168.14 L765.74 168.88 L766.25 169.62 L766.75 170.37 L767.25 171.12 L767.75 171.87 L768.25 172.63 L768.75 173.38 L769.25 174.13 L769.75 174.88 L770.26 175.62 L770.76 176.36 L771.26 177.09 L771.76 177.80 L772.26 178.51 L772.76 179.21 L773.26 179.89 L773.77 180.56 L774.27 181.21 L774.77 181.84 L775.27 182.45 L775.77 183.05 L776.27 183.62 L776.77 184.17 L777.28 184.70 L777.78 185.20 L778.28 185.68 L778.78 186.13 L779.28 186.56 L779.78 186.95 L780.28 187.32 L780.79 187.66 L781.29 187.97 L781.79 188.24 L782.29 188.49 L782.79 188.70 L782.82 188.71" stroke="#808000" stroke-dasharray="8.6 9.1" stroke-dashoffset="0.00"/>
<path d="M791.65 185.61 L791.84 185.38 L792.35 184.73 L792.85 184.04 L793.35 183.31 L793.86 182.54 L794.36 181.74 L794.87 180.91 L795.37 180.05 L795.87 179.16 L796.38 178.24 L796.88 177.31 L797.38 176.36 L797.89 175.40 L798.39 174.42 L798.89 173.43 L799.40 172.45 L799.90 171.45 L800.41 170.47 L800.91 169.48 L801.41 168.50 L801.92 167.54 L802.42 166.59 L802.92 165.66 L803.43 164.74 L803.93 163.85 L804.43 162.99 L804.94 162.16 L805.44 161.36 L805.95 160.59 L806.45 159.86 L806.95 159.17 L807.46 158.52 L807.96 157.91 L808.46 157.35 L808.97 156.84 L809.47 156.38 L809.97 155.97 L810.48 155.61 L810.98 155.30 L811.49 155.05 L811.99 154.85 L812.49 154.71 L813.00 154.63 L813.50 154.60 L814.00 154.62 L814.50 154.69 L815.00 154.80 L815.51 154.95 L816.01 155.15 L816.51 155.39 L817.01 155.67 L817.51 155.99 L818.01 156.36 L818.52 156.76 L819.02 157.20 L819.52 157.68 L820.02 158.20 L820.52 158.75 L821.02 159.33 L821.53 159.95 L822.03 160.60 L822.53 161.27 L823.03 161.97 L823.53 162.70 L824.03 163.45 L824.54 164.23 L825.04 165.02 L825.54 165.83 L826.04 166.65 L826.54 167.49 L827.04 168.34 L827.55 169.20 L828.05 170.06 L828.55 170.93 L829.05 171.80 L829.55 172.67 L830.05 173.54 L830.55 174.40 L831.06 175.26 L831.56 176.11 L832.06 176.95 L832.56 177.77 L833.06 178.58 L833.56 179.37 L834.07 180.15 L834.57 180.90 L835.07 181.63 L835.57 182.33 L836.07 183.00 L836.57 183.65 L837.08 184.27 L837.58 184.85 L838.08 185.40 L838.58 185.92 L839.08 186.40 L839.58 186.84 L840.09 187.24 L840.59 187.61 L841.09 187.93 L841.59 188.21 L842.09 188.45 L842.59 188.65 L843.10 188.80 L843.60 188.91 L844.10 188.98 L844.60 189.00 L845.10 188.98 L845.61 188.92 L846.11 188.82 L846.62 188.68 L847.12 188.50 L847.63 188.27 L848.13 188.02 L848.64 187.72 L849.14 187.38 L849.65 187.01 L850.15 186.60 L850.65 186.16 L851.16 185.68 L851.66 185.17 L852.17 184.63 L852.67 184.05 L853.18 183.45 L853.68 182.82 L854.19 182.17 L854.69 181.48 L855.20 180.78 L855.70 180.05 L856.20 179.30 L856.71 178.54 L857.21 177.75 L857.72 176.95 L858.22 176.14 L858.73 175.32 L859.23 174.49 L859.74 173.65 L860.24 172.80 L860.75 171.95 L861.25 171.10 L861.75 170.25 L862.26 169.40 L862.76 168.55 L863.27 167.71 L863.77 166.88 L864.28 166.06 L864.78 165.25 L865.29 164.45 L865.79 163.66 L866.30 162.90 L866.80 162.15 L867.30 161.42 L867.81 160.72 L868.31 160.03 L868.82 159.38 L869.32 158.75 L869.83 158.15 L870.33 157.57 L870.84 157.03 L871.34 156.52 L871.85 156.04 L872.35 155.60 L872.85 155.19 L873.36 154.82 L873.86 154.48 L874.37 154.18 L874.87 153.93 L875.38 153.70 L875.88 153.52 L876.39 153.38 L876.89 153.28 L877.40 153.22 L877.90 153.20 L878.41 153.22 L878.91 153.28 L879.42 153.38 L879.92 153.51 L880.43 153.69 L880.94 153.91 L881.44 154.16 L881.95 154.45 L882.45 154.77 L882.96 155.14 L883.47 155.54 L883.97 155.97 L884.48 156.43 L884.98 156.93 L885.49 157.46 L886.00 158.02 L886.50 158.61 L887.01 159.22 L887.51 159.86 L888.02 160.53 L888.53 161.22 L889.03 161.93 L889.54 162.67 L890.04 163.42 L890.55 164.18 L891.06 164.97 L891.56 165.76 L892.07 166.57 L892.57 167.39 L893.08 168.22 L893.59 169.05 L894.09 169.89 L894.60 170.73 L895.10 171.57 L895.61 172.41 L896.11 173.25 L896.62 174.08 L897.13 174.91 L897.63 175.73 L898.14 176.54 L898.64 177.33 L899.15 178.12 L899.66 178.88 L900.16 179.63 L900.67 180.37 L901.17 181.08 L901.68 181.77 L902.19 182.44 L902.69 183.08 L903.20 183.69 L903.70 184.28 L904.21 184.84 L904.72 185.37 L905.22 185.87 L905.73 186.33 L906.23 186.76 L906.74 187.16 L907.25 187.53 L907.75 187.85 L908.26 188.14 L908.76 188.39 L909.27 188.61 L909.78 188.79 L910.28 188.92 L910.79 189.02 L911.29 189.08 L911.80 189.10 L912.30 189.08 L912.81 189.04 L913.31 188.96 L913.81 188.85 L914.31 188.71 L914.82 188.54 L915.32 188.34 L915.82 188.11 L916.32 187.86 L916.83 187.57 L917.33 187.25 L917.83 186.91 L918.34 186.54 L918.84 186.14 L919.34 185.72 L919.84 185.27 L920.35 184.80 L920.85 184.30 L921.35 183.79 L921.85 183.25 L922.36 182.69 L922.86 182.11 L923.36 181.51 L923.86 180.89 L924.37 180.26 L924.87 179.62 L925.37 178.96 L925.88 178.28 L926.38 177.60 L926.88 176.90 L927.38 176.20 L927.89 175.48 L928.39 174.77 L928.89 174.04 L929.39 173.31 L929.90 172.58 L930.40 171.85 L930.90 171.12 L931.41 170.39 L931.91 169.66 L932.41 168.93 L932.91 168.22 L933.42 167.50 L933.92 166.80 L934.42 166.10 L934.92 165.42 L935.43 164.74 L935.93 164.08 L936.43 163.44 L936.94 162.81 L937.44 162.19 L937.94 161.59 L938.44 161.01 L938.95 160.45 L939.45 159.91 L939.95 159.40 L940.45 158.90 L940.96 158.43 L941.46 157.98 L941.96 157.56 L942.46 157.16 L942.97 156.79 L943.47 156.45 L943.97 156.13 L944.48 155.84 L944.98 155.59 L945.48 155.36 L945.98 155.16 L946.49 154.99 L946.99 154.85 L947.49 154.74 L947.99 154.66 L948.50 154.62 L949.00 154.60 L949.50 154.65 L950.00 154.79 L950.50 155.03 L951.00 155.36 L951.50 155.78 L952.00 156.29 L952.50 156.89 L953.00 157.57 L953.50 158.33 L954.00 159.17 L954.50 160.08 L955.00 161.05 L955.50 162.09 L956.00 163.19 L956.50 164.34 L957.00 165.53 L957.50 166.77 L958.00 168.03 L958.50 169.33 L959.00 170.64 L959.50 171.97 L960.00 173.30 L960.10 173.57" stroke="#808000" stroke-dasharray="8.6 9.1" stroke-dashoffset="0.00"/>
<path d="M125.00 171.95 L125.50 179.57 L126.00 187.11 L126.50 194.54 L127.00 201.85 L127.50 209.02 L128.00 216.05 L128.50 222.92 L129.00 229.61 L129.50 236.13 L130.00 242.45 L130.50 248.58 L131.00 254.49 L131.50 260.20 L132.00 265.68 L132.50 270.94 L133.00 275.97 L133.50 280.76 L134.00 285.33 L134.50 289.65 L135.00 293.74 L135.50 297.59 L136.00 301.21 L136.50 304.58 L137.00 307.72 L137.50 310.63 L138.00 313.31 L138.50 315.76 L139.00 317.98 L139.50 319.99 L140.00 321.78 L140.50 323.36 L141.00 324.73 L141.50 325.90 L142.00 326.87 L142.50 327.65 L143.00 328.25 L143.50 328.67 L144.00 328.92 L144.50 329.00 L145.00 328.85 L145.51 328.40 L146.01 327.65 L146.52 326.60 L147.02 325.26 L147.52 323.63 L148.03 321.72 L148.53 319.53 L149.04 317.07 L149.54 314.34 L150.05 311.35 L150.55 308.10 L151.05 304.61 L151.56 300.88 L152.06 296.92 L152.57 292.74 L153.07 288.35 L153.57 283.76 L154.08 278.97 L154.58 274.01 L155.09 268.87 L155.59 263.57 L156.09 258.11 L156.60 252.53 L157.10 246.81 L157.61 240.98 L158.11 235.04 L158.62 229.01 L159.12 222.90 L159.62 216.72 L160.13 210.48 L160.63 204.20 L161.14 197.89 L161.64 191.56 L162.14 185.21 L162.65 178.87 L163.15 172.55 L163.66 166.25 L164.16 159.99 L164.66 153.78 L165.17 147.63 L165.67 141.55 L166.18 135.56 L166.68 129.66 L167.18 123.86 L167.69 118.17 L168.19 112.61 L168.70 107.18 L169.20 101.89 L169.71 96.75 L170.21 91.77 L170.71 86.96 L171.22 82.32 L171.72 77.87 L172.23 73.61 L172.73 69.54 L173.23 65.67 L173.74 62.01 L174.24 58.57 L174.75 55.34 L175.25 52.34 L175.75 49.56 L176.26 47.02 L176.76 44.71 L177.27 42.64 L177.77 40.80 L178.28 39.21 L178.78 37.86 L179.28 36.76 L179.79 35.90 L180.29 35.29 L180.80 34.92 L181.30 34.80 L181.80 34.93 L182.30 35.33 L182.80 35.98 L183.31 36.89 L183.81 38.05 L184.31 39.46 L184.81 41.12 L185.31 43.01 L185.81 45.14 L186.31 47.50 L186.82 50.08 L187.32 52.88 L187.82 55.88 L188.32 59.08 L188.82 62.48 L189.32 66.06 L189.82 69.82 L190.32 73.74 L190.83 77.82 L191.33 82.05 L191.83 86.43 L192.33 90.93 L192.83 95.55 L193.33 100.28 L193.83 105.12 L194.34 110.04 L194.84 115.05 L195.34 120.12 L195.84 125.26 L196.34 130.44 L196.84 135.67 L197.34 140.92 L197.85 146.19 L198.35 151.47 L198.85 156.76 L199.35 162.02 L199.85 167.27 L200.35 172.49 L200.85 177.67 L201.35 182.80 L201.86 187.87 L202.36 192.87 L202.86 197.80 L203.36 202.64 L203.86 207.39 L204.36 212.04 L204.86 216.59 L205.37 221.01 L205.87 225.32 L206.37 229.49 L206.87 233.53 L207.37 237.43 L207.87 241.18 L208.37 244.78 L208.88 248.22 L209.38 251.49 L209.88 254.60 L210.38 257.54 L210.88 260.30 L211.38 262.88 L211.88 265.28 L212.38 267.49 L212.89 269.52 L213.39 271.36 L213.89 273.00 L214.39 274.46 L214.89 275.72 L215.39 276.78 L215.89 277.66 L216.40 278.33 L216.90 278.82 L217.40 279.10 L217.90 279.20 L218.40 279.10 L218.91 278.79 L219.41 278.28 L219.91 277.58 L220.41 276.68 L220.92 275.59 L221.42 274.31 L221.92 272.85 L222.42 271.21 L222.93 269.40 L223.43 267.42 L223.93 265.28 L224.43 262.98 L224.94 260.54 L225.44 257.95 L225.94 255.23 L226.45 252.37 L226.95 249.40 L227.45 246.31 L227.95 243.11 L228.46 239.81 L228.96 236.42 L229.46 232.94 L229.96 229.39 L230.47 225.76 L230.97 222.08 L231.47 218.34 L231.97 214.55 L232.48 210.72 L232.98 206.86 L233.48 202.98 L233.99 199.08 L234.49 195.17 L234.99 191.26 L235.49 187.35 L236.00 183.46 L236.45 180.00" stroke="#008000" stroke-dasharray="5.6 3.6" stroke-dashoffset="6.27"/>
<path d="M237.30 173.45 L237.50 171.92 L238.01 168.14 L238.51 164.41 L239.01 160.73 L239.51 157.10 L240.02 153.54 L240.52 150.05 L241.02 146.63 L241.53 143.29 L242.03 140.03 L242.53 136.86 L243.03 133.78 L243.54 130.79 L244.04 127.91 L244.54 125.13 L245.04 122.46 L245.55 119.90 L246.05 117.45 L246.55 115.11 L247.05 112.90 L247.56 110.80 L248.06 108.83 L248.56 106.98 L249.07 105.25 L249.57 103.66 L250.07 102.19 L250.57 100.84 L251.08 99.63 L251.58 98.55 L252.08 97.59 L252.58 96.77 L253.09 96.07 L253.59 95.50 L254.09 95.06 L254.59 94.75 L255.10 94.56 L255.60 94.50 L256.10 94.56 L256.61 94.74 L257.11 95.03 L257.62 95.45 L258.12 95.98 L258.62 96.62 L259.13 97.37 L259.63 98.24 L260.14 99.21 L260.64 100.29 L261.14 101.47 L261.65 102.75 L262.15 104.12 L262.66 105.59 L263.16 107.16 L263.66 108.81 L264.17 110.54 L264.67 112.35 L265.18 114.24 L265.68 116.20 L266.18 118.23 L266.69 120.33 L267.19 122.48 L267.70 124.69 L268.20 126.96 L268.70 129.27 L269.21 131.62 L269.71 134.01 L270.22 136.43 L270.72 138.88 L271.22 141.36 L271.73 143.86 L272.23 146.37 L272.74 148.89 L273.24 151.42 L273.74 153.95 L274.25 156.48 L274.75 159.00 L275.26 161.51 L275.76 164.00 L276.26 166.47 L276.77 168.92 L277.27 171.34 L277.78 173.73 L278.28 176.08 L278.78 178.39 L279.29 180.65 L279.79 182.87 L280.30 185.04 L280.80 187.15 L281.30 189.20 L281.81 191.19 L282.31 193.12 L282.82 194.98 L283.32 196.77 L283.82 198.49 L284.33 200.14 L284.83 201.70 L285.34 203.19 L285.84 204.59 L286.34 205.92 L286.85 207.15 L287.35 208.30 L287.86 209.37 L288.36 210.34 L288.86 211.22 L289.37 212.01 L289.87 212.71 L290.38 213.32 L290.88 213.83 L291.38 214.25 L291.89 214.58 L292.39 214.81 L292.90 214.95 L293.40 215.00 L293.90 214.96 L294.40 214.82 L294.90 214.61 L295.41 214.31 L295.91 213.93 L296.41 213.47 L296.91 212.94 L297.41 212.34 L297.91 211.67 L298.41 210.93 L298.92 210.13 L299.42 209.27 L299.92 208.36 L300.42 207.39 L300.92 206.38 L301.42 205.32 L301.92 204.23 L302.43 203.09 L302.93 201.93 L303.43 200.73 L303.93 199.52 L304.43 198.27 L304.93 197.01 L305.43 195.74 L305.94 194.46 L306.44 193.16 L306.94 191.87 L307.44 190.57 L307.94 189.27 L308.44 187.98 L308.94 186.70 L309.45 185.43 L309.95 184.17 L310.45 182.93 L310.95 181.70 L311.45 180.50 L311.95 179.32 L312.45 178.16 L312.96 177.03 L313.46 175.93 L313.96 174.86 L314.46 173.81 L314.96 172.80 L315.46 171.83 L315.96 170.89 L316.47 169.98 L316.97 169.12 L317.47 168.29 L317.97 167.49 L318.47 166.74 L318.97 166.03 L319.47 165.35 L319.98 164.71 L320.48 164.12 L320.98 163.56 L321.48 163.04 L321.98 162.56 L322.48 162.12 L322.98 161.72 L323.49 161.36 L323.99 161.03 L324.49 160.74 L324.99 160.49 L325.49 160.28 L325.99 160.10 L326.49 159.95 L327.00 159.84 L327.50 159.76 L328.00 159.72 L328.50 159.70 L329.01 159.72 L329.51 159.78 L330.02 159.87 L330.52 160.00 L331.03 160.17 L331.53 160.37 L332.04 160.60 L332.54 160.87 L333.05 161.17 L333.55 161.49 L334.06 161.84 L334.56 162.21 L335.07 162.61 L335.57 163.02 L336.08 163.45 L336.58 163.89 L337.09 164.34 L337.59 164.79 L338.10 165.25 L338.61 165.71 L339.11 166.16 L339.62 166.61 L340.12 167.05 L340.63 167.48 L341.13 167.89 L341.64 168.29 L342.14 168.66 L342.65 169.01 L343.15 169.33 L343.66 169.63 L344.16 169.90 L344.67 170.13 L345.17 170.33 L345.68 170.50 L346.18 170.63 L346.69 170.72 L347.19 170.78 L347.70 170.80 L348.21 170.79 L348.71 170.75 L349.22 170.69 L349.72 170.60 L350.23 170.50 L350.73 170.36 L351.24 170.21 L351.74 170.03 L352.25 169.83 L352.75 169.60 L353.26 169.36 L353.76 169.10 L354.27 168.82 L354.77 168.52 L355.28 168.20 L355.79 167.86 L356.29 167.51 L356.80 167.15 L357.30 166.77 L357.81 166.38 L358.31 165.98 L358.82 165.58 L359.32 165.16 L359.83 164.74 L360.33 164.31 L360.84 163.87 L361.34 163.44 L361.85 163.00 L362.36 162.56 L362.86 162.13 L363.37 161.69 L363.87 161.26 L364.38 160.84 L364.88 160.42 L365.39 160.02 L365.89 159.62 L366.40 159.23 L366.90 158.85 L367.41 158.49 L367.91 158.14 L368.42 157.80 L368.93 157.48 L369.43 157.18 L369.94 156.90 L370.44 156.64 L370.95 156.40 L371.45 156.17 L371.96 155.97 L372.46 155.79 L372.97 155.64 L373.47 155.50 L373.98 155.40 L374.48 155.31 L374.99 155.25 L375.49 155.21 L376.00 155.20 L376.50 155.22 L377.01 155.28 L377.51 155.39 L378.02 155.54 L378.52 155.73 L379.03 155.96 L379.53 156.24 L380.04 156.56 L380.54 156.93 L381.05 157.33 L381.55 157.78 L382.05 158.27 L382.56 158.81 L383.06 159.38 L383.57 160.00 L384.07 160.65 L384.58 161.35 L385.08 162.08 L385.59 162.84 L386.09 163.65 L386.60 164.48 L387.10 165.36 L387.60 166.26 L388.11 167.19 L388.61 168.15 L389.12 169.13 L389.62 170.14 L390.13 171.17 L390.63 172.23 L391.14 173.30 L391.64 174.38 L392.15 175.48 L392.65 176.60 L393.15 177.72 L393.66 178.84 L394.16 179.97 L394.67 181.10 L395.17 182.23 L395.68 183.36 L396.18 184.48 L396.69 185.59 L397.19 186.68 L397.70 187.76 L398.20 188.83 L398.70 189.87 L399.21 190.89 L399.71 191.88 L400.22 192.84 L400.72 193.77 L401.23 194.66 L401.73 195.52 L402.24 196.34 L402.74 197.11 L403.25 197.84 L403.75 198.52 L404.25 199.15 L404.76 199.73 L405.26 200.25 L405.77 200.72 L406.27 201.13 L406.78 201.49 L407.28 201.78 L407.79 202.00 L408.29 202.17 L408.80 202.27 L409.30 202.30 L409.80 202.28 L410.30 202.22 L410.80 202.12 L411.30 201.97 L411.80 201.79 L412.30 201.56 L412.80 201.29 L413.30 200.97 L413.80 200.61 L414.30 200.20 L414.80 199.76 L415.30 199.26 L415.80 198.72 L416.30 198.14 L416.80 197.51 L417.30 196.83 L417.80 196.11 L418.30 195.35 L418.80 194.55 L419.30 193.70 L419.80 192.80 L420.30 191.87 L420.80 190.90 L421.30 189.88 L421.80 188.83 L422.30 187.74 L422.80 186.61 L423.30 185.45 L423.80 184.25 L424.30 183.02 L424.80 181.76 L425.30 180.47 L425.80 179.15 L426.30 177.81 L426.80 176.45 L427.30 175.06 L427.80 173.66 L428.30 172.24 L428.80 170.80 L429.30 169.36 L429.80 167.90 L430.30 166.44 L430.80 164.98 L431.30 163.52 L431.80 162.05 L432.30 160.60 L432.80 159.15 L433.30 157.72 L433.80 156.30 L434.30 154.90 L434.80 153.52 L435.30 152.16 L435.80 150.84 L436.30 149.54 L436.80 148.28 L437.30 147.06 L437.80 145.88 L438.30 144.74 L438.80 143.65 L439.30 142.61 L439.80 141.63 L440.30 140.70 L440.80 139.83 L441.30 139.03 L441.80 138.29 L442.30 137.62 L442.80 137.02 L443.30 136.50 L443.80 136.05 L444.30 135.67 L444.80 135.38 L445.30 135.17 L445.80 135.04 L446.30 135.00 L446.80 135.04 L447.30 135.14 L447.80 135.32 L448.31 135.57 L448.81 135.88 L449.31 136.27 L449.81 136.73 L450.31 137.25 L450.81 137.84 L451.31 138.50 L451.82 139.22 L452.32 140.00 L452.82 140.85 L453.32 141.75 L453.82 142.72 L454.32 143.74 L454.82 144.81 L455.32 145.94 L455.83 147.12 L456.33 148.35 L456.83 149.62 L457.33 150.94 L457.83 152.29 L458.33 153.69 L458.83 155.12 L459.34 156.59 L459.84 158.09 L460.34 159.61 L460.84 161.16 L461.34 162.73 L461.84 164.32 L462.34 165.92 L462.85 167.54 L463.35 169.17 L463.85 170.80 L464.35 172.44 L464.85 174.08 L465.35 175.71 L465.85 177.34 L466.36 178.96 L466.86 180.57 L467.36 182.17 L467.86 183.74 L468.36 185.29 L468.86 186.82 L469.36 188.33 L469.87 189.80 L470.37 191.24 L470.87 192.64 L471.37 194.01 L471.87 195.34 L472.37 196.62 L472.87 197.86 L473.38 199.04 L473.88 200.18 L474.38 201.27 L474.88 202.30 L475.38 203.27 L475.88 204.18 L476.38 205.04 L476.88 205.83 L477.39 206.56 L477.89 207.22 L478.39 207.82 L478.89 208.35 L479.39 208.81 L479.89 209.20 L480.39 209.53 L480.90 209.78 L481.40 209.96 L481.90 210.06 L482.40 210.10 L482.90 210.06 L483.41 209.95 L483.91 209.77 L484.42 209.51 L484.92 209.18 L485.42 208.78 L485.93 208.30 L486.43 207.76 L486.94 207.15 L487.44 206.47 L487.95 205.72 L488.45 204.91 L488.95 204.04 L489.46 203.11 L489.96 202.11 L490.47 201.06 L490.97 199.95 L491.48 198.79 L491.98 197.58 L492.48 196.32 L492.99 195.01 L493.49 193.66 L494.00 192.27 L494.50 190.84 L495.00 189.38 L495.51 187.88 L496.01 186.36 L496.52 184.80 L497.02 183.23 L497.52 181.63 L498.03 180.01 L498.53 178.39 L499.04 176.74 L499.54 175.10 L500.05 173.44 L500.55 171.79 L501.05 170.13 L501.56 168.48 L502.06 166.84 L502.57 165.21 L503.07 163.59 L503.57 161.99 L504.08 160.40 L504.58 158.85 L505.09 157.31 L505.59 155.81 L506.10 154.33 L506.60 152.90 L507.10 151.49 L507.61 150.13 L508.11 148.81 L508.62 147.53 L509.12 146.30 L509.62 145.12 L510.13 143.99 L510.63 142.92 L511.14 141.90 L511.64 140.93 L512.15 140.03 L512.65 139.18 L513.15 138.40 L513.66 137.68 L514.16 137.03 L514.67 136.44 L515.17 135.92 L515.68 135.46 L516.18 135.08 L516.68 134.76 L517.19 134.52 L517.69 134.34 L518.20 134.24 L518.70 134.20 L519.20 134.25 L519.71 134.42 L520.21 134.69 L520.72 135.06 L521.22 135.54 L521.73 136.11 L522.23 136.77 L522.73 137.53 L523.24 138.37 L523.74 139.30 L524.25 140.31 L524.75 141.39 L525.26 142.54 L525.76 143.75 L526.26 145.03 L526.77 146.36 L527.27 147.75 L527.78 149.18 L528.28 150.66 L528.79 152.18 L529.29 153.73 L529.79 155.30 L530.30 156.91 L530.80 158.53 L531.31 160.17 L531.81 161.82 L532.32 163.48 L532.82 165.14 L533.32 166.80 L533.83 168.46 L534.33 170.11 L534.84 171.75 L535.34 173.37 L535.85 174.97 L536.35 176.56 L536.85 178.12 L537.36 179.65 L537.86 181.15 L538.37 182.62 L538.87 184.05 L539.38 185.45 L539.88 186.81 L540.38 188.13 L540.89 189.41 L541.39 190.64 L541.90 191.83 L542.40 192.97 L542.91 194.06 L543.41 195.11 L543.91 196.10 L544.42 197.05 L544.92 197.94 L545.43 198.79 L545.93 199.58 L546.44 200.32 L546.94 201.01 L547.44 201.65 L547.95 202.24 L548.45 202.78 L548.96 203.26 L549.46 203.70 L549.97 204.09 L550.47 204.43 L550.97 204.72 L551.48 204.96 L551.98 205.16 L552.49 205.31 L552.99 205.42 L553.50 205.48 L554.00 205.50 L554.50 205.47 L555.01 205.38 L555.51 205.23 L556.02 205.02 L556.52 204.75 L557.03 204.42 L557.53 204.03 L558.04 203.58 L558.54 203.07 L559.04 202.51 L559.55 201.89 L560.05 201.22 L560.56 200.50 L561.06 199.72 L561.57 198.90 L562.07 198.02 L562.58 197.10 L563.08 196.14 L563.58 195.13 L564.09 194.08 L564.59 192.99 L565.10 191.86 L565.60 190.71 L566.11 189.51 L566.61 188.29 L567.11 187.05 L567.62 185.77 L568.12 184.48 L568.63 183.17 L569.13 181.84 L569.64 180.50 L570.14 179.14 L570.65 177.78 L571.15 176.42 L571.65 175.05 L572.16 173.68 L572.66 172.32 L573.17 170.96 L573.67 169.62 L574.18 168.28 L574.68 166.96 L575.19 165.66 L575.69 164.38 L576.19 163.13 L576.70 161.90 L577.20 160.70 L577.71 159.54 L578.21 158.41 L578.72 157.31 L579.22 156.26 L579.72 155.25 L580.23 154.28 L580.73 153.36 L581.24 152.48 L581.74 151.66 L582.25 150.89 L582.75 150.18 L583.26 149.52 L583.76 148.92 L584.26 148.38 L584.77 147.90 L585.27 147.48 L585.78 147.12 L586.28 146.83 L586.79 146.60 L587.29 146.43 L587.80 146.33 L588.30 146.30 L588.80 146.33 L589.31 146.41 L589.81 146.55 L590.32 146.75 L590.82 147.00 L591.33 147.31 L591.83 147.67 L592.34 148.08 L592.84 148.55 L593.34 149.06 L593.85 149.62 L594.35 150.23 L594.86 150.89 L595.36 151.59 L595.87 152.34 L596.37 153.12 L596.88 153.95 L597.38 154.81 L597.88 155.70 L598.39 156.63 L598.89 157.59 L599.40 158.58 L599.90 159.60 L600.41 160.64 L600.91 161.70 L601.41 162.78 L601.92 163.88 L602.42 164.99 L602.93 166.12 L603.43 167.25 L603.94 168.39 L604.44 169.54 L604.95 170.69 L605.45 171.84 L605.95 172.98 L606.46 174.12 L606.96 175.26 L607.47 176.38 L607.97 177.49 L608.48 178.59 L608.98 179.67 L609.49 180.73 L609.99 181.77 L610.49 182.78 L611.00 183.78 L611.50 184.74 L612.01 185.67 L612.51 186.58 L613.02 187.45 L613.52 188.28 L614.02 189.08 L614.53 189.84 L615.03 190.57 L615.54 191.25 L616.04 191.89 L616.55 192.49 L617.05 193.04 L617.56 193.55 L618.06 194.01 L618.56 194.42 L619.07 194.79 L619.57 195.11 L620.08 195.38 L620.58 195.60 L621.09 195.78 L621.59 195.90 L622.10 195.98 L622.60 196.00 L623.10 195.97 L623.61 195.89 L624.11 195.75 L624.61 195.55 L625.11 195.30 L625.62 195.00 L626.12 194.65 L626.62 194.25 L627.13 193.80 L627.63 193.30 L628.13 192.75 L628.64 192.16 L629.14 191.53 L629.64 190.85 L630.14 190.14 L630.65 189.39 L631.15 188.60 L631.65 187.79 L632.16 186.94 L632.66 186.06 L633.16 185.16 L633.67 184.24 L634.17 183.29 L634.67 182.32 L635.17 181.34 L635.68 180.35 L636.18 179.34 L636.68 178.32 L637.19 177.30 L637.69 176.27 L638.19 175.24 L638.70 174.20 L639.20 173.17 L639.70 172.15 L640.20 171.13 L640.71 170.12 L641.21 169.13 L641.71 168.14 L642.22 167.17 L642.72 166.22 L643.22 165.29 L643.73 164.38 L644.23 163.49 L644.73 162.62 L645.23 161.78 L645.74 160.97 L646.24 160.19 L646.74 159.44 L647.25 158.72 L647.75 158.04 L648.25 157.38 L648.76 156.77 L649.26 156.19 L649.76 155.64 L650.26 155.14 L650.77 154.67 L651.27 154.24 L651.77 153.86 L652.28 153.51 L652.78 153.20 L653.28 152.94 L653.79 152.71 L654.29 152.53 L654.79 152.38 L655.29 152.28 L655.80 152.22 L656.30 152.20 L656.80 152.22 L657.31 152.29 L657.81 152.41 L658.32 152.58 L658.82 152.78 L659.33 153.04 L659.83 153.34 L660.34 153.68 L660.84 154.06 L661.35 154.49 L661.85 154.95 L662.35 155.46 L662.86 156.00 L663.36 156.58 L663.87 157.19 L664.37 157.83 L664.88 158.51 L665.38 159.22 L665.89 159.95 L666.39 160.71 L666.90 161.49 L667.40 162.30 L667.90 163.12 L668.41 163.97 L668.91 164.83 L669.42 165.70 L669.92 166.59 L670.43 167.48 L670.93 168.39 L671.44 169.30 L671.94 170.21 L672.45 171.13 L672.95 172.04 L673.45 172.95 L673.96 173.86 L674.46 174.76 L674.97 175.65 L675.47 176.53 L675.98 177.40 L676.48 178.25 L676.99 179.09 L677.49 179.91 L678.00 180.71 L678.50 181.49 L679.00 182.24 L679.51 182.97 L680.01 183.68 L680.52 184.35 L681.02 185.00 L681.53 185.62 L682.03 186.20 L682.54 186.75 L683.04 187.27 L683.55 187.75 L684.05 188.20 L684.55 188.61 L685.06 188.99 L685.56 189.32 L686.07 189.62 L686.57 189.88 L687.08 190.10 L687.58 190.28 L688.09 190.42 L688.59 190.52 L689.10 190.58 L689.60 190.60 L690.10 190.58 L690.61 190.53 L691.11 190.44 L691.62 190.31 L692.12 190.15 L692.63 189.95 L693.13 189.71 L693.64 189.44 L694.14 189.13 L694.64 188.78 L695.15 188.40 L695.65 187.99 L696.16 187.54 L696.66 187.06 L697.17 186.54 L697.67 186.00 L698.17 185.42 L698.68 184.81 L699.18 184.18 L699.69 183.51 L700.19 182.82 L700.70 182.11 L701.20 181.37 L701.71 180.60 L702.21 179.82 L702.71 179.01 L703.22 178.19 L703.72 177.35 L704.23 176.49 L704.73 175.62 L705.24 174.74 L705.74 173.85 L706.25 172.95 L706.75 172.04 L707.25 171.13 L707.76 170.22 L708.26 169.30 L708.77 168.39 L709.27 167.48 L709.78 166.58 L710.28 165.68 L710.79 164.80 L711.29 163.92 L711.79 163.06 L712.30 162.22 L712.80 161.39 L713.31 160.58 L713.81 159.80 L714.32 159.03 L714.82 158.30 L715.33 157.59 L715.83 156.91 L716.33 156.26 L716.84 155.64 L717.34 155.06 L717.85 154.51 L718.35 154.00 L718.86 153.53 L719.36 153.10 L719.86 152.71 L720.37 152.36 L720.87 152.06 L721.38 151.80 L721.88 151.58 L722.39 151.42 L722.89 151.30 L723.40 151.22 L723.90 151.20 L724.41 151.23 L724.91 151.31 L725.42 151.44 L725.92 151.63 L726.43 151.86 L726.93 152.15 L727.44 152.48 L727.94 152.85 L728.45 153.27 L728.96 153.74 L729.46 154.24 L729.97 154.78 L730.47 155.35 L730.98 155.96 L731.48 156.61 L731.99 157.28 L732.49 157.97 L733.00 158.70 L733.51 159.44 L734.01 160.21 L734.52 161.00 L735.02 161.80 L735.53 162.61 L736.03 163.44 L736.54 164.28 L737.04 165.12 L737.55 165.98 L738.06 166.83 L738.56 167.69 L739.07 168.54 L739.57 169.40 L740.08 170.25 L740.58 171.09 L741.09 171.93 L741.59 172.76 L742.10 173.58 L742.61 174.39 L743.11 175.18 L743.62 175.96 L744.12 176.72 L744.63 177.47 L745.13 178.20 L745.64 178.91 L746.14 179.60 L746.65 180.27 L747.16 180.92 L747.66 181.54 L748.17 182.14 L748.67 182.72 L749.18 183.28 L749.68 183.81 L750.19 184.31 L750.69 184.79 L751.20 185.25 L751.71 185.68 L752.21 186.08 L752.72 186.46 L753.22 186.81 L753.73 187.13 L754.23 187.43 L754.74 187.71 L755.24 187.96 L755.75 188.18 L756.26 188.38 L756.76 188.55 L757.27 188.70 L757.77 188.82 L758.28 188.92 L758.78 189.00 L759.29 189.06 L759.79 189.09 L760.30 189.10 L760.80 189.07 L761.30 188.98 L761.80 188.83 L762.30 188.62 L762.80 188.35 L763.30 188.03 L763.80 187.66 L764.30 187.23 L764.80 186.76 L765.30 186.24 L765.80 185.68 L766.30 185.08 L766.80 184.44 L767.30 183.76 L767.80 183.06 L768.30 182.32 L768.80 181.55 L769.30 180.76 L769.80 179.95 L770.30 179.12 L770.80 178.27 L771.30 177.41 L771.80 176.54 L772.30 175.67 L772.80 174.78 L773.30 173.90 L773.80 173.01 L774.30 172.13 L774.80 171.25 L775.30 170.38 L775.80 169.51 L776.30 168.66 L776.80 167.82 L777.30 167.00 L777.80 166.19 L778.30 165.40 L778.80 164.63 L779.30 163.89 L779.80 163.16 L780.30 162.46 L780.80 161.79 L781.30 161.14 L781.80 160.52 L782.30 159.93 L782.80 159.37 L783.30 158.83 L783.80 158.33 L784.30 157.86 L784.80 157.42 L785.30 157.01 L785.80 156.63 L786.30 156.28 L786.80 155.96 L787.30 155.68 L787.80 155.43 L788.30 155.21 L788.80 155.02 L789.30 154.86 L789.80 154.73 L790.30 154.63 L790.80 154.56 L791.30 154.51 L791.80 154.50 L792.30 154.52 L792.80 154.56 L793.30 154.64 L793.81 154.76 L794.31 154.90 L794.81 155.08 L795.31 155.28 L795.81 155.52 L796.31 155.78 L796.81 156.08 L797.32 156.40 L797.82 156.75 L798.32 157.13 L798.82 157.54 L799.32 157.97 L799.82 158.43 L800.32 158.91 L800.83 159.41 L801.33 159.94 L801.83 160.48 L802.33 161.05 L802.83 161.63 L803.33 162.23 L803.83 162.85 L804.34 163.48 L804.84 164.13 L805.34 164.78 L805.84 165.45 L806.34 166.13 L806.84 166.82 L807.34 167.51 L807.85 168.21 L808.35 168.91 L808.85 169.62 L809.35 170.33 L809.85 171.04 L810.35 171.74 L810.85 172.45 L811.35 173.15 L811.86 173.84 L812.36 174.53 L812.86 175.21 L813.36 175.88 L813.86 176.54 L814.36 177.18 L814.86 177.82 L815.37 178.44 L815.87 179.04 L816.37 179.63 L816.87 180.20 L817.37 180.75 L817.87 181.28 L818.37 181.79 L818.88 182.27 L819.38 182.74 L819.88 183.18 L820.38 183.59 L820.88 183.98 L821.38 184.35 L821.88 184.69 L822.39 185.00 L822.89 185.28 L823.39 185.53 L823.89 185.76 L824.39 185.95 L824.89 186.12 L825.39 186.26 L825.90 186.36 L826.40 186.44 L826.90 186.48 L827.40 186.50 L827.90 186.48 L828.41 186.42 L828.91 186.33 L829.42 186.20 L829.92 186.03 L830.43 185.82 L830.93 185.58 L831.44 185.31 L831.94 185.01 L832.45 184.67 L832.95 184.30 L833.46 183.90 L833.96 183.47 L834.47 183.02 L834.97 182.54 L835.48 182.04 L835.98 181.51 L836.48 180.96 L836.99 180.40 L837.49 179.81 L838.00 179.21 L838.50 178.60 L839.01 177.97 L839.51 177.33 L840.02 176.68 L840.52 176.02 L841.03 175.36 L841.53 174.69 L842.04 174.02 L842.54 173.35 L843.05 172.68 L843.55 172.02 L844.05 171.35 L844.56 170.69 L845.06 170.04 L845.57 169.40 L846.07 168.77 L846.58 168.14 L847.08 167.53 L847.59 166.94 L848.09 166.36 L848.60 165.80 L849.10 165.25 L849.61 164.72 L850.11 164.22 L850.62 163.73 L851.12 163.27 L851.62 162.83 L852.13 162.41 L852.63 162.01 L853.14 161.64 L853.64 161.30 L854.15 160.98 L854.65 160.69 L855.16 160.43 L855.66 160.19 L856.17 159.98 L856.67 159.80 L857.18 159.65 L857.68 159.52 L858.19 159.42 L858.69 159.36 L859.20 159.31 L859.70 159.30 L860.20 159.31 L860.71 159.35 L861.21 159.41 L861.72 159.50 L862.22 159.61 L862.73 159.74 L863.23 159.90 L863.73 160.08 L864.24 160.29 L864.74 160.51 L865.25 160.76 L865.75 161.03 L866.26 161.32 L866.76 161.64 L867.26 161.97 L867.77 162.32 L868.27 162.68 L868.78 163.07 L869.28 163.47 L869.79 163.89 L870.29 164.32 L870.79 164.77 L871.30 165.22 L871.80 165.69 L872.31 166.18 L872.81 166.67 L873.32 167.17 L873.82 167.68 L874.32 168.19 L874.83 168.71 L875.33 169.24 L875.84 169.77 L876.34 170.30 L876.85 170.83 L877.35 171.37 L877.85 171.90 L878.36 172.43 L878.86 172.96 L879.37 173.49 L879.87 174.01 L880.38 174.52 L880.88 175.03 L881.38 175.53 L881.89 176.02 L882.39 176.50 L882.90 176.97 L883.40 177.43 L883.91 177.88 L884.41 178.31 L884.91 178.73 L885.42 179.13 L885.92 179.52 L886.43 179.89 L886.93 180.24 L887.44 180.57 L887.94 180.89 L888.44 181.19 L888.95 181.46 L889.45 181.72 L889.96 181.96 L890.46 182.17 L890.97 182.36 L891.47 182.54 L891.97 182.69 L892.48 182.81 L892.98 182.92 L893.49 183.00 L893.99 183.05 L894.50 183.09 L895.00 183.10 L895.50 183.09 L896.01 183.06 L896.51 183.00 L897.02 182.92 L897.52 182.82 L898.03 182.70 L898.53 182.56 L899.04 182.39 L899.54 182.20 L900.04 181.99 L900.55 181.76 L901.05 181.51 L901.56 181.24 L902.06 180.95 L902.57 180.64 L903.07 180.31 L903.58 179.96 L904.08 179.60 L904.58 179.22 L905.09 178.82 L905.59 178.41 L906.10 177.98 L906.60 177.53 L907.11 177.08 L907.61 176.61 L908.11 176.13 L908.62 175.64 L909.12 175.14 L909.63 174.63 L910.13 174.12 L910.64 173.60 L911.14 173.07 L911.65 172.54 L912.15 172.00 L912.65 171.47 L913.16 170.93 L913.66 170.39 L914.17 169.86 L914.67 169.33 L915.18 168.80 L915.68 168.27 L916.19 167.76 L916.69 167.25 L917.19 166.74 L917.70 166.25 L918.20 165.77 L918.71 165.30 L919.21 164.85 L919.72 164.41 L920.22 163.98 L920.72 163.57 L921.23 163.18 L921.73 162.80 L922.24 162.45 L922.74 162.11 L923.25 161.79 L923.75 161.50 L924.26 161.23 L924.76 160.98 L925.26 160.76 L925.77 160.56 L926.27 160.39 L926.78 160.24 L927.28 160.12 L927.79 160.02 L928.29 159.95 L928.80 159.91 L929.30 159.90 L929.80 159.91 L930.31 159.95 L930.81 160.02 L931.31 160.12 L931.81 160.24 L932.32 160.39 L932.82 160.56 L933.32 160.76 L933.83 160.98 L934.33 161.22 L934.83 161.49 L935.33 161.78 L935.84 162.09 L936.34 162.43 L936.84 162.78 L937.35 163.15 L937.85 163.54 L938.35 163.94 L938.86 164.37 L939.36 164.80 L939.86 165.25 L940.36 165.71 L940.87 166.19 L941.37 166.67 L941.87 167.17 L942.38 167.67 L942.88 168.18 L943.38 168.69 L943.88 169.21 L944.39 169.74 L944.89 170.26 L945.39 170.79 L945.90 171.32 L946.40 171.84 L946.90 172.37 L947.40 172.89 L947.91 173.41 L948.41 173.92 L948.91 174.43 L949.42 174.93 L949.92 175.42 L950.42 175.90 L950.92 176.37 L951.43 176.84 L951.93 177.29 L952.43 177.72 L952.94 178.15 L953.44 178.56 L953.94 178.95 L954.44 179.33 L954.95 179.70 L955.45 180.04 L955.95 180.37 L956.46 180.68 L956.96 180.98 L957.46 181.25 L957.97 181.51 L958.47 181.75 L958.97 181.96 L959.47 182.16 L959.98 182.34 L960.10 182.37" stroke="#008000" stroke-dasharray="5.6 3.6" stroke-dashoffset="0.00"/>
</g>
<text x="124.70" y="380.2" font-size="32.5" text-anchor="middle" stroke="#fff" stroke-width="0.28">0</text>
<text x="291.52" y="380.2" font-size="32.5" text-anchor="middle" stroke="#fff" stroke-width="0.28">200</text>
<text x="458.34" y="380.2" font-size="32.5" text-anchor="middle" stroke="#fff" stroke-width="0.28">400</text>
<text x="625.16" y="380.2" font-size="32.5" text-anchor="middle" stroke="#fff" stroke-width="0.28">600</text>
<text x="791.98" y="380.2" font-size="32.5" text-anchor="middle" stroke="#fff" stroke-width="0.28">800</text>
<text x="958.20" y="380.2" font-size="32.5" text-anchor="middle" stroke="#fff" stroke-width="0.28" textLength="62.4" lengthAdjust="spacing">1000</text>
<text x="110.9" y="319.49" font-size="32.5" text-anchor="end" stroke="#fff" stroke-width="0.28">20</text>
<line x1="64.2" x2="78.9" y1="308.29" y2="308.29" stroke="#000" stroke-width="1.5"/>
<text x="110.9" y="252.67" font-size="32.5" text-anchor="end" stroke="#fff" stroke-width="0.28">10</text>
<line x1="64.2" x2="78.9" y1="241.47" y2="241.47" stroke="#000" stroke-width="1.5"/>
<text x="110.9" y="185.85" font-size="32.5" text-anchor="end" stroke="#fff" stroke-width="0.28">0</text>
<text x="110.9" y="119.03" font-size="32.5" text-anchor="end" stroke="#fff" stroke-width="0.28">10</text>
<text x="110.9" y="52.21" font-size="32.5" text-anchor="end" stroke="#fff" stroke-width="0.28">20</text>
<text transform="translate(390.62 52.70) scale(1.190 1)" x="-5.43" y="0" font-size="32.50" stroke="#fff" stroke-width="0.43">I</text>
<text transform="translate(406.44 52.70) scale(1.140 1)" x="-6.40" y="0" font-size="32.50" stroke="#fff" stroke-width="0.40">s</text>
<text transform="translate(422.27 52.70) scale(0.942 1)" x="-8.12" y="0" font-size="32.50" stroke="#fff" stroke-width="0.40">o</text>
<text transform="translate(438.11 52.70) scale(0.896 1)" x="-8.12" y="0" font-size="32.50" stroke="#fff" stroke-width="0.40">v</text>
<text transform="translate(453.94 52.70) scale(1.079 1)" x="-7.28" y="0" font-size="32.50" stroke="#fff" stroke-width="0.40">e</text>
<text transform="translate(469.76 52.70) scale(1.013 1)" x="-7.33" y="0" font-size="32.50" stroke="#fff" stroke-width="0.40">c</text>
<text transform="translate(485.59 52.70) scale(1.339 1)" x="-4.58" y="0" font-size="32.50" stroke="#fff" stroke-width="0.54">t</text>
<text transform="translate(501.42 52.70) scale(0.942 1)" x="-8.12" y="0" font-size="32.50" stroke="#fff" stroke-width="0.40">o</text>
<text transform="translate(517.25 52.70) scale(1.394 1)" x="-5.59" y="0" font-size="32.50" stroke="#fff" stroke-width="0.58">r</text>
<text transform="translate(548.91 52.70) scale(0.981 1)" x="-8.52" y="0" font-size="32.50" stroke="#fff" stroke-width="0.40">d</text>
<text transform="translate(564.75 52.70) scale(1.371 1)" x="-4.55" y="0" font-size="32.50" stroke="#fff" stroke-width="0.57">i</text>
<text transform="translate(580.58 52.70) scale(0.952 1)" x="-7.75" y="0" font-size="32.50" stroke="#fff" stroke-width="0.40">p</text>
<text transform="translate(596.40 52.70) scale(0.942 1)" x="-8.12" y="0" font-size="32.50" stroke="#fff" stroke-width="0.40">o</text>
<text transform="translate(612.24 52.70) scale(1.371 1)" x="-4.52" y="0" font-size="32.50" stroke="#fff" stroke-width="0.57">l</text>
<text transform="translate(628.07 52.70) scale(1.079 1)" x="-7.28" y="0" font-size="32.50" stroke="#fff" stroke-width="0.40">e</text>
<text transform="translate(659.72 52.70) scale(1.394 1)" x="-5.59" y="0" font-size="32.50" stroke="#fff" stroke-width="0.58">r</text>
<text transform="translate(675.56 52.70) scale(1.079 1)" x="-7.28" y="0" font-size="32.50" stroke="#fff" stroke-width="0.40">e</text>
<text transform="translate(691.38 52.70) scale(1.140 1)" x="-6.40" y="0" font-size="32.50" stroke="#fff" stroke-width="0.40">s</text>
<text transform="translate(707.21 52.70) scale(0.952 1)" x="-7.75" y="0" font-size="32.50" stroke="#fff" stroke-width="0.40">p</text>
<text transform="translate(723.05 52.70) scale(0.942 1)" x="-8.12" y="0" font-size="32.50" stroke="#fff" stroke-width="0.40">o</text>
<text transform="translate(738.88 52.70) scale(0.949 1)" x="-8.26" y="0" font-size="32.50" stroke="#fff" stroke-width="0.40">n</text>
<text transform="translate(754.70 52.70) scale(1.140 1)" x="-6.40" y="0" font-size="32.50" stroke="#fff" stroke-width="0.40">s</text>
<text transform="translate(770.53 52.70) scale(1.079 1)" x="-7.28" y="0" font-size="32.50" stroke="#fff" stroke-width="0.40">e</text>
<text transform="translate(802.19 52.70) scale(0.942 1)" x="-8.12" y="0" font-size="32.50" stroke="#fff" stroke-width="0.40">o</text>
<text transform="translate(818.02 52.70) scale(1.290 1)" x="-5.92" y="0" font-size="32.50" stroke="#fff" stroke-width="0.51">f</text>
<text x="869.4" y="40.1" font-size="21.6" stroke="#fff" stroke-width="0.35">208</text>
<text x="902.4" y="53.1" font-size="31" stroke="#fff" stroke-width="0.5" textLength="30.6" lengthAdjust="spacingAndGlyphs">Pb</text>
<text transform="translate(475.25 418.00) scale(1.218 1)" x="-5.57" y="0" font-size="39.50" stroke="#fff" stroke-width="0.75">t</text>
<text transform="translate(515.40 413.90) scale(0.973 1)" x="-6.49" y="0" font-size="37.60" stroke="#fff" stroke-width="0.90">(</text>
<text transform="translate(531.70 418.00) scale(1.224 1)" x="-7.19" y="0" font-size="39.50" stroke="#fff" stroke-width="0.50">f</text>
<text transform="translate(550.55 418.00) scale(0.673 1)" x="-15.46" y="0" font-size="39.50" stroke="#fff" stroke-width="0.50">m</text>
<line x1="561.6" y1="421.2" x2="577.7" y2="389.1" stroke="#000" stroke-width="1.45"/>
<text transform="translate(587.85 418.00) scale(0.925 1)" x="-8.91" y="0" font-size="39.50" stroke="#fff" stroke-width="0.50">c</text>
<text transform="translate(602.80 413.90) scale(0.973 1)" x="-6.03" y="0" font-size="37.60" stroke="#fff" stroke-width="0.90">)</text>
<g transform="translate(34.50,0) rotate(-90)">
<text transform="translate(-251.75 0.00) scale(0.992 1)" x="-12.17" y="0" font-size="37.80" stroke="#fff" stroke-width="0.40">Δ</text>
<text transform="translate(-217.65 0.00) scale(0.651 1)" x="-14.92" y="0" font-size="40.00" stroke="#fff" stroke-width="0.40">Q</text>
<text transform="translate(-201.35 10.20) scale(1.138 1)" x="-4.59" y="0" font-size="27.50" stroke="#fff" stroke-width="0.40">I</text>
<text transform="translate(-188.60 10.20) scale(0.478 1)" x="-9.93" y="0" font-size="27.50" stroke="#fff" stroke-width="0.40">V</text>
<text transform="translate(-177.10 10.20) scale(0.724 1)" x="-9.78" y="0" font-size="27.50" stroke="#fff" stroke-width="0.40">D</text>
<text transform="translate(-123.75 -4.10) scale(0.962 1)" x="-6.49" y="0" font-size="37.60" stroke="#fff" stroke-width="0.90">(</text>
<text transform="translate(-109.00 0.00) scale(1.165 1)" x="-7.19" y="0" font-size="39.50" stroke="#fff" stroke-width="0.41">f</text>
<text transform="translate(-90.55 0.00) scale(0.639 1)" x="-15.46" y="0" font-size="39.50" stroke="#fff" stroke-width="0.40">m</text>
<text transform="translate(-74.90 -4.10) scale(0.973 1)" x="-6.03" y="0" font-size="37.60" stroke="#fff" stroke-width="0.90">)</text>
</g>
<polyline points="8.2,229.2 24.6,237.5 41.1,229.2" fill="none" stroke="#000" stroke-width="1.3"/>
<polyline points="8.2,166.4 24.6,157.4 41.1,166.4" fill="none" stroke="#000" stroke-width="1.3"/>
<g fill="none" stroke-width="2.5">
<line x1="303.0" x2="355.2" y1="299.85" y2="299.85" stroke="#808000" stroke-dasharray="9.3 4.95"/>
<line x1="476.9" x2="532.0" y1="299.85" y2="299.85" stroke="#ff0000"/>
<line x1="650.1" x2="703.8" y1="299.85" y2="299.85" stroke="#0000a0" stroke-dasharray="8.5 2.7 2.6 3.1"/>
<line x1="824.2" x2="875.8" y1="299.85" y2="299.85" stroke="#008000" stroke-dasharray="5.6 3.6"/>
</g>
<text transform="translate(377.30 309.60) scale(0.921 1)" x="-7.94" y="0" font-size="28.30" fill="#808000" stroke="#fff" stroke-width="0.40">S</text>
<text transform="translate(391.30 309.60) scale(0.884 1)" x="-7.71" y="0" font-size="28.30" fill="#808000" stroke="#fff" stroke-width="0.40">P</text>
<text transform="translate(403.50 309.60) scale(0.878 1)" x="-7.26" y="0" font-size="28.30" fill="#808000" stroke="#fff" stroke-width="0.40">6</text>
<text transform="translate(416.60 309.60) scale(1.083 1)" x="-5.58" y="0" font-size="28.30" fill="#808000" stroke="#fff" stroke-width="0.40">s</text>
<text transform="translate(550.35 309.60) scale(0.921 1)" x="-7.94" y="0" font-size="28.30" fill="#ff0000" stroke="#fff" stroke-width="0.40">S</text>
<text transform="translate(564.35 309.60) scale(0.884 1)" x="-7.71" y="0" font-size="28.30" fill="#ff0000" stroke="#fff" stroke-width="0.40">P</text>
<text transform="translate(576.55 309.60) scale(0.878 1)" x="-7.26" y="0" font-size="28.30" fill="#ff0000" stroke="#fff" stroke-width="0.40">6</text>
<text transform="translate(589.65 309.60) scale(0.625 1)" x="-11.08" y="0" font-size="28.30" fill="#ff0000" stroke="#fff" stroke-width="0.40">m</text>
<text transform="translate(724.30 309.60) scale(0.921 1)" x="-7.94" y="0" font-size="28.30" fill="#0000a0" stroke="#fff" stroke-width="0.40">S</text>
<text transform="translate(738.30 309.60) scale(0.884 1)" x="-7.71" y="0" font-size="28.30" fill="#0000a0" stroke="#fff" stroke-width="0.40">P</text>
<text transform="translate(750.50 309.60) scale(0.878 1)" x="-7.26" y="0" font-size="28.30" fill="#0000a0" stroke="#fff" stroke-width="0.40">6</text>
<text transform="translate(763.60 309.60) scale(0.893 1)" x="-7.03" y="0" font-size="28.30" fill="#0000a0" stroke="#fff" stroke-width="0.40">h</text>
<text transform="translate(898.40 309.60) scale(0.557 1)" x="-12.58" y="0" font-size="28.30" fill="#008000" stroke="#fff" stroke-width="0.40">M</text>
<text transform="translate(911.50 309.60) scale(0.921 1)" x="-7.94" y="0" font-size="28.30" fill="#008000" stroke="#fff" stroke-width="0.40">S</text>
<text transform="translate(924.60 309.60) scale(0.842 1)" x="-8.21" y="0" font-size="28.30" fill="#008000" stroke="#fff" stroke-width="0.40">L</text>
<text transform="translate(937.70 309.60) scale(0.736 1)" x="-7.47" y="0" font-size="28.30" fill="#008000" stroke="#fff" stroke-width="0.40">1</text>
</svg></body></html>
